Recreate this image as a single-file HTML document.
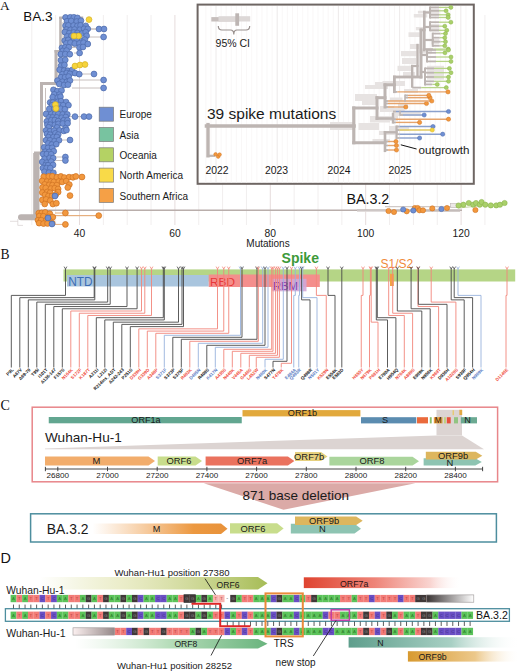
<!DOCTYPE html>
<html><head><meta charset="utf-8"><style>
html,body{margin:0;padding:0;background:#fff;width:520px;height:671px;overflow:hidden}
svg{display:block}
</style></head><body>
<svg width="520" height="671" viewBox="0 0 520 671">
<text x="0" y="9.6" font-size="13.4" fill="#111" text-anchor="start" font-family="Liberation Serif, serif" >A</text>
<text x="23.2" y="21.4" font-size="13.6" fill="#111" text-anchor="start" font-family="Liberation Sans, sans-serif" >BA.3</text>
<line x1="31.8" y1="15" x2="31.8" y2="225" stroke="#f1eeee" stroke-width="1"/>
<line x1="55.65" y1="15" x2="55.65" y2="225" stroke="#f1eeee" stroke-width="1"/>
<line x1="79.5" y1="15" x2="79.5" y2="225" stroke="#e6dcdc" stroke-width="1"/>
<line x1="103.35" y1="15" x2="103.35" y2="225" stroke="#f1eeee" stroke-width="1"/>
<line x1="127.2" y1="15" x2="127.2" y2="225" stroke="#f1eeee" stroke-width="1"/>
<line x1="151.05" y1="15" x2="151.05" y2="225" stroke="#f1eeee" stroke-width="1"/>
<line x1="174.9" y1="15" x2="174.9" y2="225" stroke="#e6dcdc" stroke-width="1"/>
<line x1="198.75" y1="15" x2="198.75" y2="225" stroke="#f1eeee" stroke-width="1"/>
<line x1="222.6" y1="15" x2="222.6" y2="225" stroke="#f1eeee" stroke-width="1"/>
<line x1="246.45" y1="15" x2="246.45" y2="225" stroke="#f1eeee" stroke-width="1"/>
<line x1="270.3" y1="15" x2="270.3" y2="225" stroke="#e6dcdc" stroke-width="1"/>
<line x1="294.15" y1="15" x2="294.15" y2="225" stroke="#f1eeee" stroke-width="1"/>
<line x1="318" y1="15" x2="318" y2="225" stroke="#f1eeee" stroke-width="1"/>
<line x1="341.85" y1="15" x2="341.85" y2="225" stroke="#f1eeee" stroke-width="1"/>
<line x1="365.7" y1="15" x2="365.7" y2="225" stroke="#e6dcdc" stroke-width="1"/>
<line x1="389.55" y1="15" x2="389.55" y2="225" stroke="#f1eeee" stroke-width="1"/>
<line x1="413.4" y1="15" x2="413.4" y2="225" stroke="#f1eeee" stroke-width="1"/>
<line x1="437.25" y1="15" x2="437.25" y2="225" stroke="#f1eeee" stroke-width="1"/>
<line x1="461.1" y1="15" x2="461.1" y2="225" stroke="#e6dcdc" stroke-width="1"/>
<line x1="484.95" y1="15" x2="484.95" y2="225" stroke="#f1eeee" stroke-width="1"/>
<line x1="38" y1="210.3" x2="462" y2="210.3" stroke="#b9aeab" stroke-width="1.6" />
<line x1="50" y1="215.6" x2="98" y2="215.6" stroke="#e0a060" stroke-width="1" />
<path d="M21,217.3 L37,217.3" stroke="#bbb3b1" stroke-width="6" stroke-linecap="round"/>
<rect x="33.2" y="153" width="6.3" height="66" fill="#bbb3b1" />
<line x1="10" y1="221.3" x2="18" y2="221.3" stroke="#dcd6d5" stroke-width="0.8" />
<line x1="17.8" y1="219" x2="17.8" y2="225.4" stroke="#dcd6d5" stroke-width="0.8" />
<line x1="17.8" y1="225.4" x2="23" y2="225.4" stroke="#dcd6d5" stroke-width="0.8" />
<rect x="34" y="151.5" width="9" height="3" fill="#bbb3b1" />
<rect x="40" y="82" width="3" height="72" fill="#bbb3b1" />
<rect x="40" y="82" width="17" height="3" fill="#bbb3b1" />
<rect x="54.5" y="50" width="3" height="34" fill="#bbb3b1" />
<rect x="54.5" y="50" width="7" height="2.5" fill="#bbb3b1" />
<rect x="59.2" y="17" width="2.6" height="35" fill="#bbb3b1" />
<rect x="59.2" y="16.5" width="24" height="2.5" fill="#bbb3b1" />
<line x1="45.5" y1="88" x2="45.5" y2="122" stroke="#c8c0be" stroke-width="1" />
<line x1="47" y1="125" x2="47" y2="150" stroke="#c8c0be" stroke-width="1" />
<line x1="43" y1="156" x2="43" y2="175" stroke="#c8c0be" stroke-width="1" />
<line x1="41" y1="180" x2="41" y2="205" stroke="#c8c0be" stroke-width="1" />
<line x1="39" y1="211" x2="39" y2="226" stroke="#c8c0be" stroke-width="1" />
<line x1="63" y1="22" x2="63" y2="44" stroke="#c8c0be" stroke-width="1" />
<line x1="60" y1="56" x2="60" y2="66" stroke="#c8c0be" stroke-width="1" />
<line x1="58" y1="68" x2="58" y2="80" stroke="#c8c0be" stroke-width="1" />
<line x1="72" y1="47.5" x2="79.5" y2="47.5" stroke="#c8c0be" stroke-width="1" />
<line x1="72" y1="47" x2="83" y2="47" stroke="#c8c0be" stroke-width="1" />
<line x1="84" y1="29" x2="99" y2="29" stroke="#c8c0be" stroke-width="1" />
<line x1="88" y1="29" x2="104" y2="29" stroke="#c8c0be" stroke-width="1" />
<line x1="84" y1="37" x2="103.6" y2="37" stroke="#c8c0be" stroke-width="1" />
<line x1="74" y1="53" x2="79.6" y2="53" stroke="#c8c0be" stroke-width="1" />
<line x1="80" y1="74" x2="94" y2="74" stroke="#c8c0be" stroke-width="1" />
<line x1="72" y1="80" x2="103.6" y2="80" stroke="#c8c0be" stroke-width="1" />
<line x1="72" y1="88" x2="103.6" y2="88" stroke="#c8c0be" stroke-width="1" />
<line x1="70" y1="116.6" x2="75" y2="116.6" stroke="#c8c0be" stroke-width="1" />
<line x1="72" y1="116.6" x2="84" y2="116.6" stroke="#c8c0be" stroke-width="1" />
<line x1="72" y1="116.6" x2="89" y2="116.6" stroke="#c8c0be" stroke-width="1" />
<line x1="60" y1="140" x2="70" y2="140" stroke="#c8c0be" stroke-width="1" />
<line x1="56" y1="157" x2="65.4" y2="157" stroke="#c8c0be" stroke-width="1" />
<line x1="56" y1="160.5" x2="65.4" y2="160.5" stroke="#c8c0be" stroke-width="1" />
<line x1="70" y1="195.6" x2="70" y2="195.6" stroke="#e6b080" stroke-width="1" />
<line x1="55" y1="213" x2="65.4" y2="213" stroke="#e6b080" stroke-width="1" />
<line x1="55" y1="215.6" x2="98.75" y2="215.6" stroke="#e6b080" stroke-width="1" />
<line x1="55" y1="224.4" x2="65.4" y2="224.4" stroke="#e6b080" stroke-width="1" />
<line x1="80" y1="177" x2="82" y2="177" stroke="#e6b080" stroke-width="1" />
<circle cx="65.58" cy="17.44" r="2.9" fill="#6f8fd3" stroke="#4f6cac" stroke-width="0.75"/>
<circle cx="70.27" cy="17.32" r="2.9" fill="#6f8fd3" stroke="#4f6cac" stroke-width="0.75"/>
<circle cx="73.86" cy="17.29" r="2.9" fill="#6f8fd3" stroke="#4f6cac" stroke-width="0.75"/>
<circle cx="77.37" cy="17.89" r="2.9" fill="#6f8fd3" stroke="#4f6cac" stroke-width="0.75"/>
<circle cx="67.06" cy="21.28" r="2.9" fill="#6f8fd3" stroke="#4f6cac" stroke-width="0.75"/>
<circle cx="71.22" cy="20.96" r="2.9" fill="#6f8fd3" stroke="#4f6cac" stroke-width="0.75"/>
<circle cx="76.81" cy="21.52" r="2.9" fill="#6f8fd3" stroke="#4f6cac" stroke-width="0.75"/>
<circle cx="80.96" cy="20.67" r="2.9" fill="#6f8fd3" stroke="#4f6cac" stroke-width="0.75"/>
<circle cx="65.55" cy="25.66" r="2.9" fill="#6f8fd3" stroke="#4f6cac" stroke-width="0.75"/>
<circle cx="68.36" cy="25.39" r="2.9" fill="#6f8fd3" stroke="#4f6cac" stroke-width="0.75"/>
<circle cx="73.67" cy="25.49" r="2.9" fill="#6f8fd3" stroke="#4f6cac" stroke-width="0.75"/>
<circle cx="77.45" cy="25.8" r="2.9" fill="#6f8fd3" stroke="#4f6cac" stroke-width="0.75"/>
<circle cx="80.51" cy="25.3" r="2.9" fill="#6f8fd3" stroke="#4f6cac" stroke-width="0.75"/>
<circle cx="85.72" cy="25.88" r="2.9" fill="#6f8fd3" stroke="#4f6cac" stroke-width="0.75"/>
<circle cx="66.47" cy="29.54" r="2.9" fill="#6f8fd3" stroke="#4f6cac" stroke-width="0.75"/>
<circle cx="70.54" cy="29.87" r="2.9" fill="#6f8fd3" stroke="#4f6cac" stroke-width="0.75"/>
<circle cx="74.54" cy="29.52" r="2.9" fill="#6f8fd3" stroke="#4f6cac" stroke-width="0.75"/>
<circle cx="79.78" cy="29.77" r="2.9" fill="#6f8fd3" stroke="#4f6cac" stroke-width="0.75"/>
<circle cx="84.06" cy="28.79" r="2.9" fill="#6f8fd3" stroke="#4f6cac" stroke-width="0.75"/>
<circle cx="87.76" cy="28.84" r="2.9" fill="#6f8fd3" stroke="#4f6cac" stroke-width="0.75"/>
<circle cx="64.88" cy="32.06" r="2.9" fill="#6f8fd3" stroke="#4f6cac" stroke-width="0.75"/>
<circle cx="69.3" cy="33.22" r="2.9" fill="#6f8fd3" stroke="#4f6cac" stroke-width="0.75"/>
<circle cx="73.78" cy="32.5" r="2.9" fill="#6f8fd3" stroke="#4f6cac" stroke-width="0.75"/>
<circle cx="77.37" cy="32.93" r="2.9" fill="#6f8fd3" stroke="#4f6cac" stroke-width="0.75"/>
<circle cx="81.91" cy="33.51" r="2.9" fill="#6f8fd3" stroke="#4f6cac" stroke-width="0.75"/>
<circle cx="85.7" cy="32.1" r="2.9" fill="#6f8fd3" stroke="#4f6cac" stroke-width="0.75"/>
<circle cx="67.16" cy="36.44" r="2.9" fill="#6f8fd3" stroke="#4f6cac" stroke-width="0.75"/>
<circle cx="71.48" cy="35.86" r="2.9" fill="#6f8fd3" stroke="#4f6cac" stroke-width="0.75"/>
<circle cx="75.3" cy="35.44" r="2.9" fill="#6f8fd3" stroke="#4f6cac" stroke-width="0.75"/>
<circle cx="78.5" cy="35.59" r="2.9" fill="#6f8fd3" stroke="#4f6cac" stroke-width="0.75"/>
<circle cx="86.63" cy="35.8" r="2.9" fill="#6f8fd3" stroke="#4f6cac" stroke-width="0.75"/>
<circle cx="64.7" cy="40.59" r="2.9" fill="#6f8fd3" stroke="#4f6cac" stroke-width="0.75"/>
<circle cx="68.25" cy="39.92" r="2.9" fill="#6f8fd3" stroke="#4f6cac" stroke-width="0.75"/>
<circle cx="73.79" cy="40.51" r="2.9" fill="#6f8fd3" stroke="#4f6cac" stroke-width="0.75"/>
<circle cx="76.8" cy="39.86" r="2.9" fill="#6f8fd3" stroke="#4f6cac" stroke-width="0.75"/>
<circle cx="81.99" cy="40.73" r="2.9" fill="#6f8fd3" stroke="#4f6cac" stroke-width="0.75"/>
<circle cx="84.82" cy="39.57" r="2.9" fill="#6f8fd3" stroke="#4f6cac" stroke-width="0.75"/>
<circle cx="66.32" cy="43.38" r="2.9" fill="#6f8fd3" stroke="#4f6cac" stroke-width="0.75"/>
<circle cx="70.47" cy="42.61" r="2.9" fill="#6f8fd3" stroke="#4f6cac" stroke-width="0.75"/>
<circle cx="74.76" cy="43.51" r="2.9" fill="#6f8fd3" stroke="#4f6cac" stroke-width="0.75"/>
<circle cx="79.44" cy="43.42" r="2.9" fill="#6f8fd3" stroke="#4f6cac" stroke-width="0.75"/>
<circle cx="83.52" cy="42.69" r="2.9" fill="#6f8fd3" stroke="#4f6cac" stroke-width="0.75"/>
<circle cx="87.8" cy="44" r="2.9" fill="#6f8fd3" stroke="#4f6cac" stroke-width="0.75"/>
<circle cx="61.94" cy="47.83" r="2.9" fill="#6f8fd3" stroke="#4f6cac" stroke-width="0.75"/>
<circle cx="65.32" cy="47.37" r="2.9" fill="#6f8fd3" stroke="#4f6cac" stroke-width="0.75"/>
<circle cx="68.81" cy="47.31" r="2.9" fill="#6f8fd3" stroke="#4f6cac" stroke-width="0.75"/>
<circle cx="62.78" cy="50.86" r="2.9" fill="#6f8fd3" stroke="#4f6cac" stroke-width="0.75"/>
<circle cx="66.59" cy="50.6" r="2.9" fill="#6f8fd3" stroke="#4f6cac" stroke-width="0.75"/>
<circle cx="60.77" cy="54.16" r="2.9" fill="#6f8fd3" stroke="#4f6cac" stroke-width="0.75"/>
<circle cx="65.25" cy="54.04" r="2.9" fill="#6f8fd3" stroke="#4f6cac" stroke-width="0.75"/>
<circle cx="69.81" cy="54.24" r="2.9" fill="#6f8fd3" stroke="#4f6cac" stroke-width="0.75"/>
<circle cx="60.95" cy="60.26" r="2.9" fill="#6f8fd3" stroke="#4f6cac" stroke-width="0.75"/>
<circle cx="65.26" cy="59.9" r="2.9" fill="#6f8fd3" stroke="#4f6cac" stroke-width="0.75"/>
<circle cx="61.03" cy="65.79" r="2.9" fill="#6f8fd3" stroke="#4f6cac" stroke-width="0.75"/>
<circle cx="64.44" cy="64.97" r="2.9" fill="#6f8fd3" stroke="#4f6cac" stroke-width="0.75"/>
<circle cx="59.68" cy="69.75" r="2.9" fill="#6f8fd3" stroke="#4f6cac" stroke-width="0.75"/>
<circle cx="64.08" cy="70.53" r="2.9" fill="#6f8fd3" stroke="#4f6cac" stroke-width="0.75"/>
<circle cx="67.74" cy="70.72" r="2.9" fill="#6f8fd3" stroke="#4f6cac" stroke-width="0.75"/>
<circle cx="72.06" cy="70.07" r="2.9" fill="#6f8fd3" stroke="#4f6cac" stroke-width="0.75"/>
<circle cx="62.35" cy="74.17" r="2.9" fill="#6f8fd3" stroke="#4f6cac" stroke-width="0.75"/>
<circle cx="66.75" cy="73.02" r="2.9" fill="#6f8fd3" stroke="#4f6cac" stroke-width="0.75"/>
<circle cx="69.9" cy="73.84" r="2.9" fill="#6f8fd3" stroke="#4f6cac" stroke-width="0.75"/>
<circle cx="75.1" cy="73.13" r="2.9" fill="#6f8fd3" stroke="#4f6cac" stroke-width="0.75"/>
<circle cx="79.26" cy="74.18" r="2.9" fill="#6f8fd3" stroke="#4f6cac" stroke-width="0.75"/>
<circle cx="61.03" cy="77.29" r="2.9" fill="#6f8fd3" stroke="#4f6cac" stroke-width="0.75"/>
<circle cx="65.07" cy="77.18" r="2.9" fill="#6f8fd3" stroke="#4f6cac" stroke-width="0.75"/>
<circle cx="68.63" cy="76.57" r="2.9" fill="#6f8fd3" stroke="#4f6cac" stroke-width="0.75"/>
<circle cx="57.5" cy="80.61" r="2.9" fill="#6f8fd3" stroke="#4f6cac" stroke-width="0.75"/>
<circle cx="62.35" cy="81.73" r="2.9" fill="#6f8fd3" stroke="#4f6cac" stroke-width="0.75"/>
<circle cx="66.89" cy="81.78" r="2.9" fill="#6f8fd3" stroke="#4f6cac" stroke-width="0.75"/>
<circle cx="69.96" cy="80.55" r="2.9" fill="#6f8fd3" stroke="#4f6cac" stroke-width="0.75"/>
<circle cx="59.31" cy="83.91" r="2.9" fill="#6f8fd3" stroke="#4f6cac" stroke-width="0.75"/>
<circle cx="64.12" cy="85.04" r="2.9" fill="#6f8fd3" stroke="#4f6cac" stroke-width="0.75"/>
<circle cx="67.96" cy="84.64" r="2.9" fill="#6f8fd3" stroke="#4f6cac" stroke-width="0.75"/>
<circle cx="53.44" cy="89.84" r="2.9" fill="#6f8fd3" stroke="#4f6cac" stroke-width="0.75"/>
<circle cx="57.29" cy="91.16" r="2.9" fill="#6f8fd3" stroke="#4f6cac" stroke-width="0.75"/>
<circle cx="61.55" cy="90.46" r="2.9" fill="#6f8fd3" stroke="#4f6cac" stroke-width="0.75"/>
<circle cx="54.22" cy="94.36" r="2.9" fill="#6f8fd3" stroke="#4f6cac" stroke-width="0.75"/>
<circle cx="59.44" cy="94.65" r="2.9" fill="#6f8fd3" stroke="#4f6cac" stroke-width="0.75"/>
<circle cx="52.71" cy="97.14" r="2.9" fill="#6f8fd3" stroke="#4f6cac" stroke-width="0.75"/>
<circle cx="57.8" cy="97.66" r="2.9" fill="#6f8fd3" stroke="#4f6cac" stroke-width="0.75"/>
<circle cx="60.43" cy="96.74" r="2.9" fill="#6f8fd3" stroke="#4f6cac" stroke-width="0.75"/>
<circle cx="50.13" cy="102.49" r="2.9" fill="#6f8fd3" stroke="#4f6cac" stroke-width="0.75"/>
<circle cx="52.86" cy="102.52" r="2.9" fill="#6f8fd3" stroke="#4f6cac" stroke-width="0.75"/>
<circle cx="57.88" cy="101.76" r="2.9" fill="#6f8fd3" stroke="#4f6cac" stroke-width="0.75"/>
<circle cx="61.04" cy="101.22" r="2.9" fill="#6f8fd3" stroke="#4f6cac" stroke-width="0.75"/>
<circle cx="66.07" cy="102.04" r="2.9" fill="#6f8fd3" stroke="#4f6cac" stroke-width="0.75"/>
<circle cx="52.08" cy="105.29" r="2.9" fill="#6f8fd3" stroke="#4f6cac" stroke-width="0.75"/>
<circle cx="55.99" cy="104.94" r="2.9" fill="#6f8fd3" stroke="#4f6cac" stroke-width="0.75"/>
<circle cx="59.13" cy="104.98" r="2.9" fill="#6f8fd3" stroke="#4f6cac" stroke-width="0.75"/>
<circle cx="63.17" cy="105.27" r="2.9" fill="#6f8fd3" stroke="#4f6cac" stroke-width="0.75"/>
<circle cx="68.44" cy="105.17" r="2.9" fill="#6f8fd3" stroke="#4f6cac" stroke-width="0.75"/>
<circle cx="49.32" cy="108.93" r="2.9" fill="#6f8fd3" stroke="#4f6cac" stroke-width="0.75"/>
<circle cx="54.23" cy="108.67" r="2.9" fill="#6f8fd3" stroke="#4f6cac" stroke-width="0.75"/>
<circle cx="57.6" cy="108.85" r="2.9" fill="#6f8fd3" stroke="#4f6cac" stroke-width="0.75"/>
<circle cx="60.83" cy="108.7" r="2.9" fill="#6f8fd3" stroke="#4f6cac" stroke-width="0.75"/>
<circle cx="64.91" cy="109.28" r="2.9" fill="#6f8fd3" stroke="#4f6cac" stroke-width="0.75"/>
<circle cx="46.11" cy="113.96" r="2.9" fill="#6f8fd3" stroke="#4f6cac" stroke-width="0.75"/>
<circle cx="51.21" cy="114.09" r="2.9" fill="#6f8fd3" stroke="#4f6cac" stroke-width="0.75"/>
<circle cx="54.93" cy="114.09" r="2.9" fill="#6f8fd3" stroke="#4f6cac" stroke-width="0.75"/>
<circle cx="58.29" cy="114.1" r="2.9" fill="#6f8fd3" stroke="#4f6cac" stroke-width="0.75"/>
<circle cx="62.7" cy="114.44" r="2.9" fill="#6f8fd3" stroke="#4f6cac" stroke-width="0.75"/>
<circle cx="67.31" cy="114.42" r="2.9" fill="#6f8fd3" stroke="#4f6cac" stroke-width="0.75"/>
<circle cx="49.34" cy="117.31" r="2.9" fill="#6f8fd3" stroke="#4f6cac" stroke-width="0.75"/>
<circle cx="52.71" cy="117.42" r="2.9" fill="#6f8fd3" stroke="#4f6cac" stroke-width="0.75"/>
<circle cx="56.71" cy="117.45" r="2.9" fill="#6f8fd3" stroke="#4f6cac" stroke-width="0.75"/>
<circle cx="61.69" cy="117.72" r="2.9" fill="#6f8fd3" stroke="#4f6cac" stroke-width="0.75"/>
<circle cx="65.8" cy="117.02" r="2.9" fill="#6f8fd3" stroke="#4f6cac" stroke-width="0.75"/>
<circle cx="46.81" cy="121.51" r="2.9" fill="#6f8fd3" stroke="#4f6cac" stroke-width="0.75"/>
<circle cx="51.41" cy="120.22" r="2.9" fill="#6f8fd3" stroke="#4f6cac" stroke-width="0.75"/>
<circle cx="54.8" cy="120.12" r="2.9" fill="#6f8fd3" stroke="#4f6cac" stroke-width="0.75"/>
<circle cx="58.23" cy="121.07" r="2.9" fill="#6f8fd3" stroke="#4f6cac" stroke-width="0.75"/>
<circle cx="63.81" cy="120.25" r="2.9" fill="#6f8fd3" stroke="#4f6cac" stroke-width="0.75"/>
<circle cx="67.49" cy="120.23" r="2.9" fill="#6f8fd3" stroke="#4f6cac" stroke-width="0.75"/>
<circle cx="47.39" cy="124.75" r="2.9" fill="#6f8fd3" stroke="#4f6cac" stroke-width="0.75"/>
<circle cx="50.3" cy="124.72" r="2.9" fill="#6f8fd3" stroke="#4f6cac" stroke-width="0.75"/>
<circle cx="54.88" cy="124.78" r="2.9" fill="#6f8fd3" stroke="#4f6cac" stroke-width="0.75"/>
<circle cx="58.39" cy="123.89" r="2.9" fill="#6f8fd3" stroke="#4f6cac" stroke-width="0.75"/>
<circle cx="62.81" cy="123.51" r="2.9" fill="#6f8fd3" stroke="#4f6cac" stroke-width="0.75"/>
<circle cx="67.6" cy="123.23" r="2.9" fill="#6f8fd3" stroke="#4f6cac" stroke-width="0.75"/>
<circle cx="48.7" cy="127.3" r="2.9" fill="#6f8fd3" stroke="#4f6cac" stroke-width="0.75"/>
<circle cx="57.02" cy="127.42" r="2.9" fill="#6f8fd3" stroke="#4f6cac" stroke-width="0.75"/>
<circle cx="65.52" cy="128.15" r="2.9" fill="#6f8fd3" stroke="#4f6cac" stroke-width="0.75"/>
<circle cx="45.99" cy="130.42" r="2.9" fill="#6f8fd3" stroke="#4f6cac" stroke-width="0.75"/>
<circle cx="49.97" cy="131.25" r="2.9" fill="#6f8fd3" stroke="#4f6cac" stroke-width="0.75"/>
<circle cx="54.23" cy="130.68" r="2.9" fill="#6f8fd3" stroke="#4f6cac" stroke-width="0.75"/>
<circle cx="59.57" cy="130.41" r="2.9" fill="#6f8fd3" stroke="#4f6cac" stroke-width="0.75"/>
<circle cx="63.85" cy="130.91" r="2.9" fill="#6f8fd3" stroke="#4f6cac" stroke-width="0.75"/>
<circle cx="66.46" cy="130.09" r="2.9" fill="#6f8fd3" stroke="#4f6cac" stroke-width="0.75"/>
<circle cx="47.04" cy="133.88" r="2.9" fill="#6f8fd3" stroke="#4f6cac" stroke-width="0.75"/>
<circle cx="50.03" cy="134.7" r="2.9" fill="#6f8fd3" stroke="#4f6cac" stroke-width="0.75"/>
<circle cx="55.44" cy="133.33" r="2.9" fill="#6f8fd3" stroke="#4f6cac" stroke-width="0.75"/>
<circle cx="58.22" cy="134.58" r="2.9" fill="#6f8fd3" stroke="#4f6cac" stroke-width="0.75"/>
<circle cx="48.52" cy="137.14" r="2.9" fill="#6f8fd3" stroke="#4f6cac" stroke-width="0.75"/>
<circle cx="53.47" cy="137.03" r="2.9" fill="#6f8fd3" stroke="#4f6cac" stroke-width="0.75"/>
<circle cx="56.85" cy="136.98" r="2.9" fill="#6f8fd3" stroke="#4f6cac" stroke-width="0.75"/>
<circle cx="46" cy="140.26" r="2.9" fill="#6f8fd3" stroke="#4f6cac" stroke-width="0.75"/>
<circle cx="49.99" cy="140.32" r="2.9" fill="#6f8fd3" stroke="#4f6cac" stroke-width="0.75"/>
<circle cx="54.55" cy="141.22" r="2.9" fill="#6f8fd3" stroke="#4f6cac" stroke-width="0.75"/>
<circle cx="59" cy="140.28" r="2.9" fill="#6f8fd3" stroke="#4f6cac" stroke-width="0.75"/>
<circle cx="48.32" cy="143.43" r="2.9" fill="#6f8fd3" stroke="#4f6cac" stroke-width="0.75"/>
<circle cx="51.83" cy="144.57" r="2.9" fill="#6f8fd3" stroke="#4f6cac" stroke-width="0.75"/>
<circle cx="56.24" cy="144.16" r="2.9" fill="#6f8fd3" stroke="#4f6cac" stroke-width="0.75"/>
<circle cx="44.18" cy="147.37" r="2.9" fill="#6f8fd3" stroke="#4f6cac" stroke-width="0.75"/>
<circle cx="48.07" cy="147.89" r="2.9" fill="#6f8fd3" stroke="#4f6cac" stroke-width="0.75"/>
<circle cx="52.2" cy="147.83" r="2.9" fill="#6f8fd3" stroke="#4f6cac" stroke-width="0.75"/>
<circle cx="45.31" cy="151.7" r="2.9" fill="#6f8fd3" stroke="#4f6cac" stroke-width="0.75"/>
<circle cx="49.12" cy="151.93" r="2.9" fill="#6f8fd3" stroke="#4f6cac" stroke-width="0.75"/>
<circle cx="53.74" cy="151.25" r="2.9" fill="#6f8fd3" stroke="#4f6cac" stroke-width="0.75"/>
<circle cx="43.13" cy="154.09" r="2.9" fill="#6f8fd3" stroke="#4f6cac" stroke-width="0.75"/>
<circle cx="46.83" cy="154.11" r="2.9" fill="#6f8fd3" stroke="#4f6cac" stroke-width="0.75"/>
<circle cx="51.16" cy="154.26" r="2.9" fill="#6f8fd3" stroke="#4f6cac" stroke-width="0.75"/>
<circle cx="44.55" cy="158.75" r="2.9" fill="#6f8fd3" stroke="#4f6cac" stroke-width="0.75"/>
<circle cx="49.71" cy="157.85" r="2.9" fill="#6f8fd3" stroke="#4f6cac" stroke-width="0.75"/>
<circle cx="53.13" cy="158.14" r="2.9" fill="#6f8fd3" stroke="#4f6cac" stroke-width="0.75"/>
<circle cx="42.28" cy="161.91" r="2.9" fill="#6f8fd3" stroke="#4f6cac" stroke-width="0.75"/>
<circle cx="46.57" cy="162.74" r="2.9" fill="#6f8fd3" stroke="#4f6cac" stroke-width="0.75"/>
<circle cx="51.18" cy="161.59" r="2.9" fill="#6f8fd3" stroke="#4f6cac" stroke-width="0.75"/>
<circle cx="45.64" cy="165.1" r="2.9" fill="#6f8fd3" stroke="#4f6cac" stroke-width="0.75"/>
<circle cx="48" cy="165.21" r="2.9" fill="#6f8fd3" stroke="#4f6cac" stroke-width="0.75"/>
<circle cx="53" cy="164.92" r="2.9" fill="#6f8fd3" stroke="#4f6cac" stroke-width="0.75"/>
<circle cx="42.91" cy="168.01" r="2.9" fill="#6f8fd3" stroke="#4f6cac" stroke-width="0.75"/>
<circle cx="46.58" cy="168.14" r="2.9" fill="#6f8fd3" stroke="#4f6cac" stroke-width="0.75"/>
<circle cx="50.28" cy="168.04" r="2.9" fill="#6f8fd3" stroke="#4f6cac" stroke-width="0.75"/>
<circle cx="44.45" cy="171.77" r="2.9" fill="#6f8fd3" stroke="#4f6cac" stroke-width="0.75"/>
<circle cx="48.95" cy="172.6" r="2.9" fill="#6f8fd3" stroke="#4f6cac" stroke-width="0.75"/>
<circle cx="53.39" cy="172.81" r="2.9" fill="#6f8fd3" stroke="#4f6cac" stroke-width="0.75"/>
<circle cx="43.7" cy="176.72" r="2.9" fill="#f2983e" stroke="#d07424" stroke-width="0.75"/>
<circle cx="48.87" cy="176.44" r="2.9" fill="#f2983e" stroke="#d07424" stroke-width="0.75"/>
<circle cx="52.36" cy="176.27" r="2.9" fill="#f2983e" stroke="#d07424" stroke-width="0.75"/>
<circle cx="56.91" cy="177.2" r="2.9" fill="#f2983e" stroke="#d07424" stroke-width="0.75"/>
<circle cx="60.86" cy="176.42" r="2.9" fill="#f2983e" stroke="#d07424" stroke-width="0.75"/>
<circle cx="64.41" cy="177.54" r="2.9" fill="#f2983e" stroke="#d07424" stroke-width="0.75"/>
<circle cx="69.09" cy="177.13" r="2.9" fill="#f2983e" stroke="#d07424" stroke-width="0.75"/>
<circle cx="72.93" cy="177.31" r="2.9" fill="#f2983e" stroke="#d07424" stroke-width="0.75"/>
<circle cx="75.86" cy="176.41" r="2.9" fill="#f2983e" stroke="#d07424" stroke-width="0.75"/>
<circle cx="42.15" cy="180.87" r="2.9" fill="#f2983e" stroke="#d07424" stroke-width="0.75"/>
<circle cx="47.1" cy="181.59" r="2.9" fill="#f2983e" stroke="#d07424" stroke-width="0.75"/>
<circle cx="50.83" cy="181.79" r="2.9" fill="#f2983e" stroke="#d07424" stroke-width="0.75"/>
<circle cx="53.81" cy="181.98" r="2.9" fill="#f2983e" stroke="#d07424" stroke-width="0.75"/>
<circle cx="58.81" cy="181.56" r="2.9" fill="#f2983e" stroke="#d07424" stroke-width="0.75"/>
<circle cx="62.12" cy="181.88" r="2.9" fill="#f2983e" stroke="#d07424" stroke-width="0.75"/>
<circle cx="66.23" cy="181.12" r="2.9" fill="#f2983e" stroke="#d07424" stroke-width="0.75"/>
<circle cx="44.71" cy="184.43" r="2.9" fill="#f2983e" stroke="#d07424" stroke-width="0.75"/>
<circle cx="49.26" cy="184.89" r="2.9" fill="#f2983e" stroke="#d07424" stroke-width="0.75"/>
<circle cx="52.46" cy="185.19" r="2.9" fill="#f2983e" stroke="#d07424" stroke-width="0.75"/>
<circle cx="56.81" cy="185.13" r="2.9" fill="#f2983e" stroke="#d07424" stroke-width="0.75"/>
<circle cx="69.34" cy="184.59" r="2.9" fill="#f2983e" stroke="#d07424" stroke-width="0.75"/>
<circle cx="42.52" cy="187.52" r="2.9" fill="#f2983e" stroke="#d07424" stroke-width="0.75"/>
<circle cx="45.71" cy="187.93" r="2.9" fill="#f2983e" stroke="#d07424" stroke-width="0.75"/>
<circle cx="50.95" cy="188.58" r="2.9" fill="#f2983e" stroke="#d07424" stroke-width="0.75"/>
<circle cx="54.73" cy="188.24" r="2.9" fill="#f2983e" stroke="#d07424" stroke-width="0.75"/>
<circle cx="58.11" cy="188.93" r="2.9" fill="#f2983e" stroke="#d07424" stroke-width="0.75"/>
<circle cx="67.79" cy="187.53" r="2.9" fill="#f2983e" stroke="#d07424" stroke-width="0.75"/>
<circle cx="42.33" cy="192.51" r="2.9" fill="#f2983e" stroke="#d07424" stroke-width="0.75"/>
<circle cx="47.34" cy="191.92" r="2.9" fill="#f2983e" stroke="#d07424" stroke-width="0.75"/>
<circle cx="50.08" cy="192.71" r="2.9" fill="#f2983e" stroke="#d07424" stroke-width="0.75"/>
<circle cx="58.16" cy="192.04" r="2.9" fill="#f2983e" stroke="#d07424" stroke-width="0.75"/>
<circle cx="45.11" cy="194.81" r="2.9" fill="#f2983e" stroke="#d07424" stroke-width="0.75"/>
<circle cx="48.42" cy="196.02" r="2.9" fill="#f2983e" stroke="#d07424" stroke-width="0.75"/>
<circle cx="52.02" cy="196.04" r="2.9" fill="#f2983e" stroke="#d07424" stroke-width="0.75"/>
<circle cx="55.74" cy="194.61" r="2.9" fill="#f2983e" stroke="#d07424" stroke-width="0.75"/>
<circle cx="42.39" cy="199.92" r="2.9" fill="#f2983e" stroke="#d07424" stroke-width="0.75"/>
<circle cx="46.14" cy="199.43" r="2.9" fill="#f2983e" stroke="#d07424" stroke-width="0.75"/>
<circle cx="50.27" cy="200.54" r="2.9" fill="#f2983e" stroke="#d07424" stroke-width="0.75"/>
<circle cx="44.75" cy="203.94" r="2.9" fill="#f2983e" stroke="#d07424" stroke-width="0.75"/>
<circle cx="52.88" cy="204.04" r="2.9" fill="#f2983e" stroke="#d07424" stroke-width="0.75"/>
<circle cx="56.37" cy="203.23" r="2.9" fill="#f2983e" stroke="#d07424" stroke-width="0.75"/>
<circle cx="38.8" cy="213.14" r="2.9" fill="#f2983e" stroke="#d07424" stroke-width="0.75"/>
<circle cx="41.75" cy="212.88" r="2.9" fill="#f2983e" stroke="#d07424" stroke-width="0.75"/>
<circle cx="45.29" cy="212.36" r="2.9" fill="#f2983e" stroke="#d07424" stroke-width="0.75"/>
<circle cx="49.81" cy="213.7" r="2.9" fill="#f2983e" stroke="#d07424" stroke-width="0.75"/>
<circle cx="39.35" cy="216.03" r="2.9" fill="#f2983e" stroke="#d07424" stroke-width="0.75"/>
<circle cx="43.34" cy="216.2" r="2.9" fill="#f2983e" stroke="#d07424" stroke-width="0.75"/>
<circle cx="48.69" cy="216.9" r="2.9" fill="#f2983e" stroke="#d07424" stroke-width="0.75"/>
<circle cx="52.84" cy="217.11" r="2.9" fill="#f2983e" stroke="#d07424" stroke-width="0.75"/>
<circle cx="37.99" cy="220.15" r="2.9" fill="#f2983e" stroke="#d07424" stroke-width="0.75"/>
<circle cx="41.19" cy="220.17" r="2.9" fill="#f2983e" stroke="#d07424" stroke-width="0.75"/>
<circle cx="46.55" cy="220.03" r="2.9" fill="#f2983e" stroke="#d07424" stroke-width="0.75"/>
<circle cx="49.39" cy="220.48" r="2.9" fill="#f2983e" stroke="#d07424" stroke-width="0.75"/>
<circle cx="39.13" cy="223.16" r="2.9" fill="#f2983e" stroke="#d07424" stroke-width="0.75"/>
<circle cx="43.54" cy="223.58" r="2.9" fill="#f2983e" stroke="#d07424" stroke-width="0.75"/>
<circle cx="47.57" cy="223.45" r="2.9" fill="#f2983e" stroke="#d07424" stroke-width="0.75"/>
<circle cx="52.2" cy="223.03" r="2.9" fill="#f2983e" stroke="#d07424" stroke-width="0.75"/>
<circle cx="79.5" cy="47.5" r="2.9" fill="#6f8fd3" stroke="#4f6cac" stroke-width="0.75"/>
<circle cx="83" cy="47" r="2.9" fill="#6f8fd3" stroke="#4f6cac" stroke-width="0.75"/>
<circle cx="99" cy="29" r="2.9" fill="#6f8fd3" stroke="#4f6cac" stroke-width="0.75"/>
<circle cx="104" cy="29" r="2.9" fill="#6f8fd3" stroke="#4f6cac" stroke-width="0.75"/>
<circle cx="103.6" cy="37" r="2.9" fill="#6f8fd3" stroke="#4f6cac" stroke-width="0.75"/>
<circle cx="79.6" cy="53" r="2.9" fill="#6f8fd3" stroke="#4f6cac" stroke-width="0.75"/>
<circle cx="94" cy="74" r="2.9" fill="#6f8fd3" stroke="#4f6cac" stroke-width="0.75"/>
<circle cx="103.6" cy="80" r="2.9" fill="#6f8fd3" stroke="#4f6cac" stroke-width="0.75"/>
<circle cx="103.6" cy="88" r="2.9" fill="#6f8fd3" stroke="#4f6cac" stroke-width="0.75"/>
<circle cx="75" cy="116.6" r="2.9" fill="#6f8fd3" stroke="#4f6cac" stroke-width="0.75"/>
<circle cx="84" cy="116.6" r="2.9" fill="#6f8fd3" stroke="#4f6cac" stroke-width="0.75"/>
<circle cx="89" cy="116.6" r="2.9" fill="#6f8fd3" stroke="#4f6cac" stroke-width="0.75"/>
<circle cx="70" cy="140" r="2.9" fill="#6f8fd3" stroke="#4f6cac" stroke-width="0.75"/>
<circle cx="65.4" cy="157" r="2.9" fill="#6f8fd3" stroke="#4f6cac" stroke-width="0.75"/>
<circle cx="65.4" cy="160.5" r="2.9" fill="#6f8fd3" stroke="#4f6cac" stroke-width="0.75"/>
<circle cx="70" cy="195.6" r="2.9" fill="#f2983e" stroke="#d07424" stroke-width="0.75"/>
<circle cx="65.4" cy="213" r="2.9" fill="#f2983e" stroke="#d07424" stroke-width="0.75"/>
<circle cx="98.75" cy="215.6" r="2.9" fill="#f2983e" stroke="#d07424" stroke-width="0.75"/>
<circle cx="65.4" cy="224.4" r="2.9" fill="#f2983e" stroke="#d07424" stroke-width="0.75"/>
<circle cx="82" cy="177" r="2.9" fill="#f2983e" stroke="#d07424" stroke-width="0.75"/>
<circle cx="89" cy="19.6" r="2.9" fill="#f6d43c" stroke="#d8b428" stroke-width="0.75"/>
<circle cx="78.6" cy="36" r="2.9" fill="#f6d43c" stroke="#d8b428" stroke-width="0.75"/>
<circle cx="74" cy="36" r="2.9" fill="#f6d43c" stroke="#d8b428" stroke-width="0.75"/>
<circle cx="75" cy="66" r="2.9" fill="#f6d43c" stroke="#d8b428" stroke-width="0.75"/>
<circle cx="80" cy="65" r="2.9" fill="#f6d43c" stroke="#d8b428" stroke-width="0.75"/>
<circle cx="85" cy="64.5" r="2.9" fill="#f6d43c" stroke="#d8b428" stroke-width="0.75"/>
<circle cx="55.4" cy="104.6" r="2.9" fill="#f6d43c" stroke="#d8b428" stroke-width="0.75"/>
<circle cx="56" cy="108.5" r="2.9" fill="#f6d43c" stroke="#d8b428" stroke-width="0.75"/>
<circle cx="55" cy="196" r="2.9" fill="#6f8fd3" stroke="#4f6cac" stroke-width="0.75"/>
<circle cx="52" cy="224" r="2.9" fill="#6f8fd3" stroke="#4f6cac" stroke-width="0.75"/>
<circle cx="48" cy="218" r="2.9" fill="#6f8fd3" stroke="#4f6cac" stroke-width="0.75"/>
<rect x="99.2" y="107.2" width="14.3" height="14" fill="#6f8fd3" stroke="#7a7a7a" stroke-width="0.7"/>
<text x="119.6" y="118.4" font-size="10" fill="#1a1a1a" text-anchor="start" font-family="Liberation Sans, sans-serif" >Europe</text>
<rect x="99.2" y="127.5" width="14.3" height="14" fill="#78c3a0" stroke="#7a7a7a" stroke-width="0.7"/>
<text x="119.6" y="138.7" font-size="10" fill="#1a1a1a" text-anchor="start" font-family="Liberation Sans, sans-serif" >Asia</text>
<rect x="99.2" y="147.8" width="14.3" height="14" fill="#b4d264" stroke="#7a7a7a" stroke-width="0.7"/>
<text x="119.6" y="159" font-size="10" fill="#1a1a1a" text-anchor="start" font-family="Liberation Sans, sans-serif" >Oceania</text>
<rect x="99.2" y="168.1" width="14.3" height="14" fill="#f9da48" stroke="#7a7a7a" stroke-width="0.7"/>
<text x="119.6" y="179.3" font-size="10" fill="#1a1a1a" text-anchor="start" font-family="Liberation Sans, sans-serif" >North America</text>
<rect x="99.2" y="188.4" width="14.3" height="14" fill="#f5a046" stroke="#7a7a7a" stroke-width="0.7"/>
<text x="119.6" y="199.6" font-size="10" fill="#1a1a1a" text-anchor="start" font-family="Liberation Sans, sans-serif" >Southern Africa</text>
<text x="79.5" y="236.5" font-size="10.3" fill="#1a1a1a" text-anchor="middle" font-family="Liberation Sans, sans-serif" >40</text>
<text x="174.9" y="236.5" font-size="10.3" fill="#1a1a1a" text-anchor="middle" font-family="Liberation Sans, sans-serif" >60</text>
<text x="270.3" y="236.5" font-size="10.3" fill="#1a1a1a" text-anchor="middle" font-family="Liberation Sans, sans-serif" >80</text>
<text x="365.7" y="236.5" font-size="10.3" fill="#1a1a1a" text-anchor="middle" font-family="Liberation Sans, sans-serif" >100</text>
<text x="461.1" y="236.5" font-size="10.3" fill="#1a1a1a" text-anchor="middle" font-family="Liberation Sans, sans-serif" >120</text>
<text x="268" y="247.3" font-size="10" fill="#1a1a1a" text-anchor="middle" font-family="Liberation Sans, sans-serif" >Mutations</text>
<text x="346.4" y="204" font-size="14.3" fill="#111" text-anchor="start" font-family="Liberation Sans, sans-serif" >BA.3.2</text>
<line x1="357" y1="210.6" x2="460" y2="210.6" stroke="#c4bcba" stroke-width="2.2" />
<line x1="357" y1="211.2" x2="388" y2="211.2" stroke="#efeceb" stroke-width="0.8" />
<line x1="385" y1="206.6" x2="458" y2="206.6" stroke="#d0c9c7" stroke-width="1.2" />
<rect x="450.5" y="203.6" width="14.5" height="3.7" fill="#ece8e7" stroke="#bdb5b3" stroke-width="0.6"/>
<line x1="458" y1="208" x2="500" y2="204" stroke="#c6d6a0" stroke-width="1" />
<circle cx="388.5" cy="211" r="2.6" fill="#f2983e" stroke="#d07424" stroke-width="0.6"/>
<circle cx="394" cy="212" r="2.6" fill="#f2983e" stroke="#d07424" stroke-width="0.6"/>
<circle cx="406.7" cy="211.3" r="2.6" fill="#f2983e" stroke="#d07424" stroke-width="0.6"/>
<circle cx="403.2" cy="209.5" r="2.6" fill="#6f8fd3" stroke="#4f6cac" stroke-width="0.6"/>
<circle cx="414.8" cy="208" r="2.6" fill="#f2983e" stroke="#d07424" stroke-width="0.6"/>
<circle cx="417.7" cy="208" r="2.6" fill="#f2983e" stroke="#d07424" stroke-width="0.6"/>
<circle cx="413.3" cy="210.5" r="2.6" fill="#6f8fd3" stroke="#4f6cac" stroke-width="0.6"/>
<circle cx="419.5" cy="210.3" r="2.6" fill="#f2983e" stroke="#d07424" stroke-width="0.6"/>
<circle cx="423" cy="210.3" r="2.6" fill="#f2983e" stroke="#d07424" stroke-width="0.6"/>
<circle cx="432.3" cy="208.4" r="2.6" fill="#f2983e" stroke="#d07424" stroke-width="0.6"/>
<circle cx="441.4" cy="209" r="2.6" fill="#6f8fd3" stroke="#4f6cac" stroke-width="0.6"/>
<circle cx="447" cy="208" r="2.6" fill="#f2983e" stroke="#d07424" stroke-width="0.6"/>
<circle cx="475.4" cy="210" r="2.6" fill="#f2983e" stroke="#d07424" stroke-width="0.6"/>
<circle cx="463.4" cy="204.7" r="2.6" fill="#a9d06a" stroke="#8cb44c" stroke-width="0.6"/>
<circle cx="468.8" cy="203" r="2.6" fill="#a9d06a" stroke="#8cb44c" stroke-width="0.6"/>
<circle cx="473.2" cy="204.7" r="2.6" fill="#a9d06a" stroke="#8cb44c" stroke-width="0.6"/>
<circle cx="476" cy="203" r="2.6" fill="#a9d06a" stroke="#8cb44c" stroke-width="0.6"/>
<circle cx="479.8" cy="204.7" r="2.6" fill="#a9d06a" stroke="#8cb44c" stroke-width="0.6"/>
<circle cx="481.6" cy="202" r="2.6" fill="#a9d06a" stroke="#8cb44c" stroke-width="0.6"/>
<circle cx="485.3" cy="204.7" r="2.6" fill="#a9d06a" stroke="#8cb44c" stroke-width="0.6"/>
<circle cx="490.8" cy="205.4" r="2.6" fill="#a9d06a" stroke="#8cb44c" stroke-width="0.6"/>
<circle cx="496.2" cy="205.4" r="2.6" fill="#a9d06a" stroke="#8cb44c" stroke-width="0.6"/>
<circle cx="500" cy="204.7" r="2.6" fill="#a9d06a" stroke="#8cb44c" stroke-width="0.6"/>
<circle cx="504.6" cy="203" r="2.6" fill="#a9d06a" stroke="#8cb44c" stroke-width="0.6"/>
<circle cx="458.5" cy="205.5" r="2.6" fill="#a9d06a" stroke="#8cb44c" stroke-width="0.6"/>
<rect x="197.6" y="4.6" width="276.2" height="179.2" fill="#ffffff" stroke="#6e6663" stroke-width="2"/>
<line x1="205.8" y1="6" x2="205.8" y2="182.5" stroke="#f7f5f5" stroke-width="0.8" />
<line x1="210.9" y1="6" x2="210.9" y2="182.5" stroke="#f7f5f5" stroke-width="0.8" />
<line x1="216" y1="6" x2="216" y2="182.5" stroke="#e9e4e4" stroke-width="0.8" />
<line x1="221.1" y1="6" x2="221.1" y2="182.5" stroke="#f7f5f5" stroke-width="0.8" />
<line x1="226.2" y1="6" x2="226.2" y2="182.5" stroke="#f7f5f5" stroke-width="0.8" />
<line x1="231.3" y1="6" x2="231.3" y2="182.5" stroke="#f7f5f5" stroke-width="0.8" />
<line x1="236.4" y1="6" x2="236.4" y2="182.5" stroke="#f7f5f5" stroke-width="0.8" />
<line x1="241.5" y1="6" x2="241.5" y2="182.5" stroke="#f7f5f5" stroke-width="0.8" />
<line x1="246.6" y1="6" x2="246.6" y2="182.5" stroke="#f7f5f5" stroke-width="0.8" />
<line x1="251.7" y1="6" x2="251.7" y2="182.5" stroke="#f7f5f5" stroke-width="0.8" />
<line x1="256.8" y1="6" x2="256.8" y2="182.5" stroke="#f7f5f5" stroke-width="0.8" />
<line x1="261.9" y1="6" x2="261.9" y2="182.5" stroke="#f7f5f5" stroke-width="0.8" />
<line x1="267" y1="6" x2="267" y2="182.5" stroke="#f7f5f5" stroke-width="0.8" />
<line x1="272.1" y1="6" x2="272.1" y2="182.5" stroke="#f7f5f5" stroke-width="0.8" />
<line x1="277.2" y1="6" x2="277.2" y2="182.5" stroke="#e9e4e4" stroke-width="0.8" />
<line x1="282.3" y1="6" x2="282.3" y2="182.5" stroke="#f7f5f5" stroke-width="0.8" />
<line x1="287.4" y1="6" x2="287.4" y2="182.5" stroke="#f7f5f5" stroke-width="0.8" />
<line x1="292.5" y1="6" x2="292.5" y2="182.5" stroke="#f7f5f5" stroke-width="0.8" />
<line x1="297.6" y1="6" x2="297.6" y2="182.5" stroke="#f7f5f5" stroke-width="0.8" />
<line x1="302.7" y1="6" x2="302.7" y2="182.5" stroke="#f7f5f5" stroke-width="0.8" />
<line x1="307.8" y1="6" x2="307.8" y2="182.5" stroke="#f7f5f5" stroke-width="0.8" />
<line x1="312.9" y1="6" x2="312.9" y2="182.5" stroke="#f7f5f5" stroke-width="0.8" />
<line x1="318" y1="6" x2="318" y2="182.5" stroke="#f7f5f5" stroke-width="0.8" />
<line x1="323.1" y1="6" x2="323.1" y2="182.5" stroke="#f7f5f5" stroke-width="0.8" />
<line x1="328.2" y1="6" x2="328.2" y2="182.5" stroke="#f7f5f5" stroke-width="0.8" />
<line x1="333.3" y1="6" x2="333.3" y2="182.5" stroke="#f7f5f5" stroke-width="0.8" />
<line x1="338.4" y1="6" x2="338.4" y2="182.5" stroke="#e9e4e4" stroke-width="0.8" />
<line x1="343.5" y1="6" x2="343.5" y2="182.5" stroke="#f7f5f5" stroke-width="0.8" />
<line x1="348.6" y1="6" x2="348.6" y2="182.5" stroke="#f7f5f5" stroke-width="0.8" />
<line x1="353.7" y1="6" x2="353.7" y2="182.5" stroke="#f7f5f5" stroke-width="0.8" />
<line x1="358.8" y1="6" x2="358.8" y2="182.5" stroke="#f7f5f5" stroke-width="0.8" />
<line x1="363.9" y1="6" x2="363.9" y2="182.5" stroke="#f7f5f5" stroke-width="0.8" />
<line x1="369" y1="6" x2="369" y2="182.5" stroke="#f7f5f5" stroke-width="0.8" />
<line x1="374.1" y1="6" x2="374.1" y2="182.5" stroke="#f7f5f5" stroke-width="0.8" />
<line x1="379.2" y1="6" x2="379.2" y2="182.5" stroke="#f7f5f5" stroke-width="0.8" />
<line x1="384.3" y1="6" x2="384.3" y2="182.5" stroke="#f7f5f5" stroke-width="0.8" />
<line x1="389.4" y1="6" x2="389.4" y2="182.5" stroke="#f7f5f5" stroke-width="0.8" />
<line x1="394.5" y1="6" x2="394.5" y2="182.5" stroke="#f7f5f5" stroke-width="0.8" />
<line x1="399.6" y1="6" x2="399.6" y2="182.5" stroke="#e9e4e4" stroke-width="0.8" />
<line x1="404.7" y1="6" x2="404.7" y2="182.5" stroke="#f7f5f5" stroke-width="0.8" />
<line x1="409.8" y1="6" x2="409.8" y2="182.5" stroke="#f7f5f5" stroke-width="0.8" />
<line x1="414.9" y1="6" x2="414.9" y2="182.5" stroke="#f7f5f5" stroke-width="0.8" />
<line x1="420" y1="6" x2="420" y2="182.5" stroke="#f7f5f5" stroke-width="0.8" />
<line x1="425.1" y1="6" x2="425.1" y2="182.5" stroke="#f7f5f5" stroke-width="0.8" />
<line x1="430.2" y1="6" x2="430.2" y2="182.5" stroke="#f7f5f5" stroke-width="0.8" />
<line x1="435.3" y1="6" x2="435.3" y2="182.5" stroke="#f7f5f5" stroke-width="0.8" />
<line x1="440.4" y1="6" x2="440.4" y2="182.5" stroke="#f7f5f5" stroke-width="0.8" />
<line x1="445.5" y1="6" x2="445.5" y2="182.5" stroke="#f7f5f5" stroke-width="0.8" />
<line x1="450.6" y1="6" x2="450.6" y2="182.5" stroke="#f7f5f5" stroke-width="0.8" />
<line x1="455.7" y1="6" x2="455.7" y2="182.5" stroke="#f7f5f5" stroke-width="0.8" />
<line x1="460.8" y1="6" x2="460.8" y2="182.5" stroke="#e9e4e4" stroke-width="0.8" />
<line x1="465.9" y1="6" x2="465.9" y2="182.5" stroke="#f7f5f5" stroke-width="0.8" />
<text x="217" y="173.6" font-size="10.4" fill="#1a1a1a" text-anchor="middle" font-family="Liberation Sans, sans-serif" >2022</text>
<text x="276.6" y="173.6" font-size="10.4" fill="#1a1a1a" text-anchor="middle" font-family="Liberation Sans, sans-serif" >2023</text>
<text x="339" y="173.6" font-size="10.4" fill="#1a1a1a" text-anchor="middle" font-family="Liberation Sans, sans-serif" >2024</text>
<text x="400" y="173.6" font-size="10.4" fill="#1a1a1a" text-anchor="middle" font-family="Liberation Sans, sans-serif" >2025</text>
<rect x="211.3" y="17.1" width="24.5" height="4.4" fill="#c6bebc" />
<rect x="218.5" y="16.2" width="31.7" height="5.3" fill="#ddd8d7" />
<rect x="235.3" y="13.3" width="3.8" height="12.5" fill="#bdb5b3" />
<path d="M218.3,26 Q218.3,30 222,30 L230.5,30 Q233.8,30 233.8,34.5 Q233.8,30 237,30 L246,30 Q249.7,30 249.7,26" fill="none" stroke="#9a918f" stroke-width="1.2"/>
<text x="215.6" y="46.5" font-size="10.5" fill="#1a1a1a" text-anchor="start" font-family="Liberation Sans, sans-serif" >95% CI</text>
<rect x="330" y="122" width="24" height="8" fill="#e7e3e2" />
<rect x="355" y="94" width="22" height="7" fill="#e7e3e2" />
<rect x="365" y="85" width="23" height="4" fill="#e7e3e2" />
<rect x="382.7" y="108" width="22" height="3.5" fill="#e7e3e2" />
<rect x="358.5" y="123" width="20.5" height="7" fill="#e7e3e2" />
<rect x="379" y="131" width="16.5" height="4" fill="#e7e3e2" />
<rect x="393" y="111.5" width="27.8" height="4.5" fill="#e7e3e2" />
<rect x="395.4" y="126.5" width="13.6" height="4.5" fill="#e7e3e2" />
<rect x="375" y="82" width="10.4" height="5.4" fill="#e7e3e2" />
<rect x="397.5" y="65.8" width="14.7" height="5.2" fill="#e7e3e2" />
<rect x="401" y="51" width="15.5" height="5.2" fill="#e7e3e2" />
<rect x="419" y="48.5" width="13" height="5" fill="#e7e3e2" />
<rect x="427" y="65.8" width="17" height="13.8" fill="#e7e3e2" />
<rect x="408.5" y="32.3" width="12" height="4.7" fill="#e7e3e2" />
<rect x="415.9" y="27" width="8" height="3.3" fill="#e7e3e2" />
<rect x="430.7" y="24" width="8.7" height="7.6" fill="#e7e3e2" />
<rect x="431.3" y="39" width="8" height="5.4" fill="#e7e3e2" />
<rect x="417.9" y="10.8" width="12" height="2.7" fill="#e7e3e2" />
<rect x="413.8" y="14" width="13.5" height="3.5" fill="#e7e3e2" />
<rect x="430.7" y="8.7" width="8.7" height="6.8" fill="#e7e3e2" />
<rect x="340" y="124" width="14" height="4" fill="#e7e3e2" />
<rect x="388" y="116" width="10" height="5" fill="#e7e3e2" />
<rect x="404" y="89" width="14" height="4" fill="#e7e3e2" />
<rect x="382.5" y="81" width="22.5" height="5" fill="#e7e3e2" />
<rect x="390" y="97.5" width="12.5" height="3.5" fill="#e7e3e2" />
<rect x="370" y="116" width="20" height="6.5" fill="#e7e3e2" />
<rect x="389" y="126" width="16" height="5" fill="#e7e3e2" />
<rect x="372.5" y="139" width="17.5" height="3.5" fill="#e7e3e2" />
<rect x="362" y="100" width="14" height="5" fill="#e7e3e2" />
<rect x="403" y="72" width="12" height="6" fill="#e7e3e2" />
<rect x="380" y="106" width="14" height="6" fill="#e7e3e2" />
<rect x="398" y="103" width="10" height="5" fill="#e7e3e2" />
<rect x="402" y="58" width="14" height="6" fill="#e7e3e2" />
<rect x="410" y="44" width="10" height="5" fill="#e7e3e2" />
<line x1="208" y1="124.6" x2="208" y2="155.8" stroke="#bdb5b2" stroke-width="3.4" stroke-linecap="square"/>
<line x1="206.5" y1="126" x2="354" y2="126" stroke="#bdb5b2" stroke-width="3.6" stroke-linecap="square"/>
<line x1="208" y1="155.8" x2="214" y2="155.8" stroke="#bdb5b2" stroke-width="2.2" stroke-linecap="square"/>
<line x1="353.8" y1="108" x2="353.8" y2="142.7" stroke="#bdb5b2" stroke-width="3.2" stroke-linecap="square"/>
<line x1="353.8" y1="108" x2="377" y2="108" stroke="#bdb5b2" stroke-width="3" stroke-linecap="square"/>
<line x1="377" y1="97.7" x2="377" y2="118.5" stroke="#bdb5b2" stroke-width="3" stroke-linecap="square"/>
<line x1="377" y1="97.7" x2="385" y2="97.7" stroke="#bdb5b2" stroke-width="3" stroke-linecap="square"/>
<line x1="385" y1="84.8" x2="385" y2="107" stroke="#bdb5b2" stroke-width="3" stroke-linecap="square"/>
<line x1="385" y1="84.8" x2="394.4" y2="84.8" stroke="#bdb5b2" stroke-width="3" stroke-linecap="square"/>
<line x1="394.4" y1="77" x2="394.4" y2="91.7" stroke="#bdb5b2" stroke-width="2.8" stroke-linecap="square"/>
<line x1="394.4" y1="77" x2="421" y2="77" stroke="#bdb5b2" stroke-width="2.8" stroke-linecap="square"/>
<line x1="421" y1="30" x2="421" y2="77" stroke="#bdb5b2" stroke-width="3" stroke-linecap="square"/>
<line x1="417.5" y1="45" x2="417.5" y2="76" stroke="#bdb5b2" stroke-width="2.4" stroke-linecap="square"/>
<line x1="421" y1="30" x2="424.3" y2="30" stroke="#bdb5b2" stroke-width="2.6" stroke-linecap="square"/>
<line x1="424.3" y1="12" x2="424.3" y2="50" stroke="#bdb5b2" stroke-width="2.6" stroke-linecap="square"/>
<line x1="412.2" y1="66" x2="412.2" y2="86.5" stroke="#bdb5b2" stroke-width="2.4" stroke-linecap="square"/>
<line x1="412.2" y1="66" x2="417.5" y2="66" stroke="#bdb5b2" stroke-width="2.2" stroke-linecap="square"/>
<line x1="377" y1="118.5" x2="393" y2="118.5" stroke="#bdb5b2" stroke-width="2.6" stroke-linecap="square"/>
<line x1="393" y1="113.8" x2="393" y2="122.4" stroke="#bdb5b2" stroke-width="2.4" stroke-linecap="square"/>
<line x1="353.8" y1="142.7" x2="385" y2="142.7" stroke="#bdb5b2" stroke-width="3" stroke-linecap="square"/>
<line x1="385" y1="132.3" x2="385" y2="150.8" stroke="#bdb5b2" stroke-width="2.6" stroke-linecap="square"/>
<line x1="385" y1="132.3" x2="396.5" y2="132.3" stroke="#bdb5b2" stroke-width="2.4" stroke-linecap="square"/>
<line x1="396.5" y1="126.5" x2="396.5" y2="138" stroke="#bdb5b2" stroke-width="2.2" stroke-linecap="square"/>
<line x1="424.3" y1="12.5" x2="430" y2="12.5" stroke="#bdb5b2" stroke-width="2.2" stroke-linecap="square"/>
<line x1="430" y1="7.4" x2="430" y2="17.5" stroke="#bdb5b2" stroke-width="2.0" stroke-linecap="square"/>
<line x1="424.3" y1="27" x2="430" y2="27" stroke="#bdb5b2" stroke-width="2.2" stroke-linecap="square"/>
<line x1="430" y1="22.2" x2="430" y2="30.3" stroke="#bdb5b2" stroke-width="2.0" stroke-linecap="square"/>
<line x1="424.3" y1="40" x2="432.7" y2="40" stroke="#bdb5b2" stroke-width="2.2" stroke-linecap="square"/>
<line x1="432.7" y1="33.6" x2="432.7" y2="45.8" stroke="#bdb5b2" stroke-width="2.0" stroke-linecap="square"/>
<line x1="421" y1="55" x2="427" y2="55" stroke="#bdb5b2" stroke-width="2.2" stroke-linecap="square"/>
<line x1="427" y1="50" x2="427" y2="61.4" stroke="#bdb5b2" stroke-width="2.0" stroke-linecap="square"/>
<line x1="421" y1="72" x2="425" y2="72" stroke="#bdb5b2" stroke-width="2.2" stroke-linecap="square"/>
<line x1="425" y1="68.4" x2="425" y2="84.4" stroke="#bdb5b2" stroke-width="2.0" stroke-linecap="square"/>
<line x1="430" y1="7.4" x2="439" y2="7.4" stroke="#bdb5b2" stroke-width="1.8" />
<line x1="439" y1="7.4" x2="450.9" y2="7.4" stroke="#b8d48a" stroke-width="1.3" />
<circle cx="450.9" cy="7.4" r="2" fill="#a9d06a" stroke="#8cb44c" stroke-width="0.5"/>
<line x1="430" y1="10.8" x2="439" y2="10.8" stroke="#bdb5b2" stroke-width="1.8" />
<line x1="439" y1="10.8" x2="446.1" y2="10.8" stroke="#b8d48a" stroke-width="1.3" />
<circle cx="446.1" cy="10.8" r="2" fill="#a9d06a" stroke="#8cb44c" stroke-width="0.5"/>
<line x1="430" y1="14.8" x2="439" y2="14.8" stroke="#bdb5b2" stroke-width="1.8" />
<line x1="439" y1="14.8" x2="448.2" y2="14.8" stroke="#b8d48a" stroke-width="1.3" />
<circle cx="448.2" cy="14.8" r="2" fill="#a9d06a" stroke="#8cb44c" stroke-width="0.5"/>
<line x1="430" y1="17.5" x2="439" y2="17.5" stroke="#bdb5b2" stroke-width="1.8" />
<line x1="439" y1="17.5" x2="448.2" y2="17.5" stroke="#b8d48a" stroke-width="1.3" />
<circle cx="448.2" cy="17.5" r="2" fill="#a9d06a" stroke="#8cb44c" stroke-width="0.5"/>
<line x1="430" y1="22.2" x2="439" y2="22.2" stroke="#bdb5b2" stroke-width="1.8" />
<line x1="439" y1="22.2" x2="450.9" y2="22.2" stroke="#b8d48a" stroke-width="1.3" />
<circle cx="450.9" cy="22.2" r="2" fill="#a9d06a" stroke="#8cb44c" stroke-width="0.5"/>
<line x1="430" y1="26.2" x2="439" y2="26.2" stroke="#bdb5b2" stroke-width="1.8" />
<line x1="439" y1="26.2" x2="444.8" y2="26.2" stroke="#b8d48a" stroke-width="1.3" />
<circle cx="444.8" cy="26.2" r="2" fill="#a9d06a" stroke="#8cb44c" stroke-width="0.5"/>
<line x1="430" y1="30.3" x2="439" y2="30.3" stroke="#bdb5b2" stroke-width="1.8" />
<line x1="439" y1="30.3" x2="446.8" y2="30.3" stroke="#b8d48a" stroke-width="1.3" />
<circle cx="446.8" cy="30.3" r="2" fill="#a9d06a" stroke="#8cb44c" stroke-width="0.5"/>
<line x1="432.7" y1="33.6" x2="440.5" y2="33.6" stroke="#bdb5b2" stroke-width="1.8" />
<line x1="440.5" y1="33.6" x2="445.5" y2="33.6" stroke="#b8d48a" stroke-width="1.3" />
<circle cx="445.5" cy="33.6" r="2" fill="#a9d06a" stroke="#8cb44c" stroke-width="0.5"/>
<line x1="432.7" y1="37.7" x2="439.8" y2="37.7" stroke="#bdb5b2" stroke-width="1.8" />
<line x1="439.8" y1="37.7" x2="444.8" y2="37.7" stroke="#b8d48a" stroke-width="1.3" />
<circle cx="444.8" cy="37.7" r="2" fill="#a9d06a" stroke="#8cb44c" stroke-width="0.5"/>
<line x1="432.7" y1="41.7" x2="440.5" y2="41.7" stroke="#bdb5b2" stroke-width="1.8" />
<line x1="440.5" y1="41.7" x2="445.5" y2="41.7" stroke="#b8d48a" stroke-width="1.3" />
<circle cx="445.5" cy="41.7" r="2" fill="#a9d06a" stroke="#8cb44c" stroke-width="0.5"/>
<line x1="432.7" y1="45.8" x2="439.8" y2="45.8" stroke="#bdb5b2" stroke-width="1.8" />
<line x1="439.8" y1="45.8" x2="444.8" y2="45.8" stroke="#b8d48a" stroke-width="1.3" />
<circle cx="444.8" cy="45.8" r="2" fill="#a9d06a" stroke="#8cb44c" stroke-width="0.5"/>
<line x1="424.3" y1="49.1" x2="433.3" y2="49.1" stroke="#bdb5b2" stroke-width="1.8" />
<line x1="433.3" y1="49.1" x2="448.2" y2="49.1" stroke="#b8d48a" stroke-width="1.3" />
<circle cx="448.2" cy="49.1" r="2" fill="#a9d06a" stroke="#8cb44c" stroke-width="0.5"/>
<line x1="427" y1="50" x2="436" y2="50" stroke="#bdb5b2" stroke-width="1.8" />
<line x1="436" y1="50" x2="448.5" y2="50" stroke="#b8d48a" stroke-width="1.3" />
<circle cx="448.5" cy="50" r="2" fill="#a9d06a" stroke="#8cb44c" stroke-width="0.5"/>
<line x1="427" y1="52.8" x2="436" y2="52.8" stroke="#bdb5b2" stroke-width="1.8" />
<line x1="436" y1="52.8" x2="445" y2="52.8" stroke="#b8d48a" stroke-width="1.3" />
<circle cx="445" cy="52.8" r="2" fill="#a9d06a" stroke="#8cb44c" stroke-width="0.5"/>
<line x1="427" y1="57" x2="436" y2="57" stroke="#bdb5b2" stroke-width="1.8" />
<line x1="436" y1="57" x2="451" y2="57" stroke="#b8d48a" stroke-width="1.3" />
<circle cx="451" cy="57" r="2" fill="#a9d06a" stroke="#8cb44c" stroke-width="0.5"/>
<line x1="427" y1="61.4" x2="436" y2="61.4" stroke="#bdb5b2" stroke-width="1.8" />
<line x1="436" y1="61.4" x2="451" y2="61.4" stroke="#b8d48a" stroke-width="1.3" />
<circle cx="451" cy="61.4" r="2" fill="#a9d06a" stroke="#8cb44c" stroke-width="0.5"/>
<line x1="425" y1="68.4" x2="434" y2="68.4" stroke="#bdb5b2" stroke-width="1.8" />
<line x1="434" y1="68.4" x2="449.4" y2="68.4" stroke="#b8d48a" stroke-width="1.3" />
<circle cx="449.4" cy="68.4" r="2" fill="#a9d06a" stroke="#8cb44c" stroke-width="0.5"/>
<line x1="425" y1="72.7" x2="434" y2="72.7" stroke="#bdb5b2" stroke-width="1.8" />
<line x1="434" y1="72.7" x2="451" y2="72.7" stroke="#b8d48a" stroke-width="1.3" />
<circle cx="451" cy="72.7" r="2" fill="#a9d06a" stroke="#8cb44c" stroke-width="0.5"/>
<line x1="425" y1="77" x2="434" y2="77" stroke="#bdb5b2" stroke-width="1.8" />
<line x1="434" y1="77" x2="448.5" y2="77" stroke="#b8d48a" stroke-width="1.3" />
<circle cx="448.5" cy="77" r="2" fill="#a9d06a" stroke="#8cb44c" stroke-width="0.5"/>
<line x1="425" y1="81.3" x2="434" y2="81.3" stroke="#bdb5b2" stroke-width="1.8" />
<line x1="434" y1="81.3" x2="448.5" y2="81.3" stroke="#b8d48a" stroke-width="1.3" />
<circle cx="448.5" cy="81.3" r="2" fill="#a9d06a" stroke="#8cb44c" stroke-width="0.5"/>
<line x1="425" y1="84.4" x2="432.3" y2="84.4" stroke="#bdb5b2" stroke-width="1.8" />
<line x1="432.3" y1="84.4" x2="437.3" y2="84.4" stroke="#b8d48a" stroke-width="1.3" />
<circle cx="437.3" cy="84.4" r="2" fill="#a9d06a" stroke="#8cb44c" stroke-width="0.5"/>
<line x1="412.2" y1="87.6" x2="421.2" y2="87.6" stroke="#bdb5b2" stroke-width="1.8" />
<line x1="421.2" y1="87.6" x2="446.3" y2="87.6" stroke="#b8d48a" stroke-width="1.3" />
<circle cx="446.3" cy="87.6" r="2" fill="#a9d06a" stroke="#8cb44c" stroke-width="0.5"/>
<line x1="394.4" y1="91.9" x2="397.4" y2="91.9" stroke="#bdb5b2" stroke-width="1.8" />
<line x1="397.4" y1="91.9" x2="448" y2="91.9" stroke="#e6a46c" stroke-width="1.4" />
<circle cx="448" cy="91.9" r="2.1" fill="#f2983e" stroke="#d07424" stroke-width="0.5"/>
<line x1="385" y1="107" x2="388" y2="107" stroke="#bdb5b2" stroke-width="1.8" />
<line x1="388" y1="107" x2="405.8" y2="107" stroke="#e6a46c" stroke-width="1.4" />
<circle cx="405.8" cy="107" r="2.1" fill="#f2983e" stroke="#d07424" stroke-width="0.5"/>
<line x1="385" y1="103.5" x2="388" y2="103.5" stroke="#bdb5b2" stroke-width="1.8" />
<line x1="388" y1="103.5" x2="426.5" y2="103.5" stroke="#e6a46c" stroke-width="1.4" />
<circle cx="426.5" cy="103.5" r="2.1" fill="#f2983e" stroke="#d07424" stroke-width="0.5"/>
<line x1="385" y1="101" x2="388" y2="101" stroke="#bdb5b2" stroke-width="1.8" />
<line x1="388" y1="101" x2="431.8" y2="101" stroke="#e6a46c" stroke-width="1.4" />
<circle cx="431.8" cy="101" r="2.1" fill="#f2983e" stroke="#d07424" stroke-width="0.5"/>
<line x1="405" y1="97.7" x2="408" y2="97.7" stroke="#bdb5b2" stroke-width="1.8" />
<line x1="408" y1="97.7" x2="430" y2="97.7" stroke="#e6a46c" stroke-width="1.4" />
<circle cx="430" cy="97.7" r="2.1" fill="#f2983e" stroke="#d07424" stroke-width="0.5"/>
<line x1="405" y1="95.4" x2="408" y2="95.4" stroke="#bdb5b2" stroke-width="1.8" />
<line x1="408" y1="95.4" x2="428.8" y2="95.4" stroke="#e6a46c" stroke-width="1.4" />
<circle cx="428.8" cy="95.4" r="2.1" fill="#f2983e" stroke="#d07424" stroke-width="0.5"/>
<line x1="393" y1="111.5" x2="396" y2="111.5" stroke="#bdb5b2" stroke-width="1.8" />
<line x1="396" y1="111.5" x2="448.5" y2="111.5" stroke="#8aa0cc" stroke-width="1.4" />
<circle cx="448.5" cy="111.5" r="2.1" fill="#6f8fd3" stroke="#4f6cac" stroke-width="0.5"/>
<line x1="400" y1="115" x2="403" y2="115" stroke="#bdb5b2" stroke-width="1.8" />
<line x1="403" y1="115" x2="424.2" y2="115" stroke="#8aa0cc" stroke-width="1.4" />
<circle cx="424.2" cy="115" r="2.1" fill="#6f8fd3" stroke="#4f6cac" stroke-width="0.5"/>
<line x1="393" y1="119.2" x2="396" y2="119.2" stroke="#bdb5b2" stroke-width="1.8" />
<line x1="396" y1="119.2" x2="448.5" y2="119.2" stroke="#e6a46c" stroke-width="1.4" />
<circle cx="448.5" cy="119.2" r="2.1" fill="#f2983e" stroke="#d07424" stroke-width="0.5"/>
<line x1="393" y1="122.4" x2="396" y2="122.4" stroke="#bdb5b2" stroke-width="1.8" />
<line x1="396" y1="122.4" x2="419.6" y2="122.4" stroke="#e6a46c" stroke-width="1.4" />
<circle cx="419.6" cy="122.4" r="2.1" fill="#f2983e" stroke="#d07424" stroke-width="0.5"/>
<line x1="396.5" y1="126.5" x2="399.5" y2="126.5" stroke="#bdb5b2" stroke-width="1.8" />
<line x1="399.5" y1="126.5" x2="433" y2="126.5" stroke="#8aa0cc" stroke-width="1.4" />
<circle cx="433" cy="126.5" r="2.1" fill="#6f8fd3" stroke="#4f6cac" stroke-width="0.5"/>
<line x1="396.5" y1="130" x2="399.5" y2="130" stroke="#bdb5b2" stroke-width="1.8" />
<line x1="399.5" y1="130" x2="432.3" y2="130" stroke="#e0c860" stroke-width="1.4" />
<circle cx="432.3" cy="130" r="2.1" fill="#f6d43c" stroke="#d8b428" stroke-width="0.5"/>
<line x1="396.5" y1="134.2" x2="399.5" y2="134.2" stroke="#bdb5b2" stroke-width="1.8" />
<line x1="399.5" y1="134.2" x2="442.7" y2="134.2" stroke="#8aa0cc" stroke-width="1.4" />
<circle cx="442.7" cy="134.2" r="2.1" fill="#6f8fd3" stroke="#4f6cac" stroke-width="0.5"/>
<line x1="396.5" y1="138" x2="399.5" y2="138" stroke="#bdb5b2" stroke-width="1.8" />
<line x1="399.5" y1="138" x2="419.6" y2="138" stroke="#8aa0cc" stroke-width="1.4" />
<circle cx="419.6" cy="138" r="2.1" fill="#6f8fd3" stroke="#4f6cac" stroke-width="0.5"/>
<line x1="385" y1="141.5" x2="388" y2="141.5" stroke="#bdb5b2" stroke-width="1.8" />
<line x1="388" y1="141.5" x2="396" y2="141.5" stroke="#e6a46c" stroke-width="1.4" />
<circle cx="396" cy="141.5" r="2.1" fill="#f2983e" stroke="#d07424" stroke-width="0.5"/>
<line x1="385" y1="145.5" x2="388" y2="145.5" stroke="#bdb5b2" stroke-width="1.8" />
<line x1="388" y1="145.5" x2="396.5" y2="145.5" stroke="#e6a46c" stroke-width="1.4" />
<circle cx="396.5" cy="145.5" r="2.1" fill="#f2983e" stroke="#d07424" stroke-width="0.5"/>
<line x1="385" y1="150" x2="388" y2="150" stroke="#bdb5b2" stroke-width="1.8" />
<line x1="388" y1="150" x2="396.5" y2="150" stroke="#e6a46c" stroke-width="1.4" />
<circle cx="396.5" cy="150" r="2.1" fill="#f2983e" stroke="#d07424" stroke-width="0.5"/>
<line x1="405" y1="95.4" x2="405" y2="101" stroke="#bdb5b2" stroke-width="1.6" stroke-linecap="square"/>
<line x1="400" y1="111.5" x2="400" y2="115" stroke="#bdb5b2" stroke-width="1.6" stroke-linecap="square"/>
<circle cx="215.6" cy="154.3" r="1.8" fill="#f2983e" stroke="#d07424" stroke-width="0.5"/>
<circle cx="218.2" cy="156.6" r="1.8" fill="#f2983e" stroke="#d07424" stroke-width="0.5"/>
<circle cx="219.6" cy="154.6" r="1.8" fill="#f2983e" stroke="#d07424" stroke-width="0.5"/>
<text x="207" y="118.8" font-size="15.5" fill="#1a1a1a" text-anchor="start" font-family="Liberation Sans, sans-serif" >39 spike mutations</text>
<text x="418.6" y="154" font-size="11.6" fill="#1a1a1a" text-anchor="start" font-family="Liberation Sans, sans-serif" >outgrowth</text>
<line x1="416.6" y1="149" x2="400.8" y2="144.8" stroke="#111" stroke-width="1" />
<text x="0.5" y="259" font-size="13.6" fill="#111" text-anchor="start" font-family="Liberation Serif, serif" >B</text>
<rect x="63.5" y="269.4" width="451.7" height="12.1" fill="#b5d586" />
<rect x="67" y="275" width="141.75" height="11.5" fill="#a9c5de" />
<rect x="208.75" y="274.5" width="111.05" height="12.5" fill="#f48e8c" />
<rect x="272.3" y="278.8" width="34.2" height="12.5" fill="#d2a6d6" opacity="0.9"/>
<rect x="390" y="273.8" width="3.8" height="12.2" fill="#f2a244" />
<text x="68.2" y="285.7" font-size="11.9" fill="#3b6db4" text-anchor="start" font-family="Liberation Sans, sans-serif" >NTD</text>
<text x="210" y="285.6" font-size="11.8" fill="#e8383a" text-anchor="start" font-family="Liberation Sans, sans-serif" >RBD</text>
<text x="273" y="290" font-size="11.2" fill="#8a3fae" text-anchor="start" font-family="Liberation Sans, sans-serif" >RBM</text>
<text x="281.6" y="262.6" font-size="14" fill="#3d9a3a" text-anchor="start" font-family="Liberation Sans, sans-serif" font-weight="bold" >Spike</text>
<text x="380.6" y="268.2" font-size="12" fill="#ef8a3a" text-anchor="start" font-family="Liberation Sans, sans-serif" >S1/S2</text>
<path d="M65.5,269.0 L65.5,295.4 L11.3,295.4 L11.3,367.5" stroke="#4a4a4a" stroke-width="0.9" fill="none" />
<path d="M64.1,266.6 L65.5,269 L66.9,266.6" stroke="#4a4a4a" stroke-width="0.8" fill="none" />
<text x="13.9" y="370.1" font-size="4.5" fill="#141414" text-anchor="end" font-family="Liberation Sans, sans-serif" font-weight="bold" transform="rotate(-45 13.9 370.1)">P9L</text>
<path d="M94.2,269.0 L94.2,297.63 L19.8,297.63 L19.8,367.5" stroke="#4a4a4a" stroke-width="0.9" fill="none" />
<path d="M92.8,266.6 L94.2,269 L95.6,266.6" stroke="#4a4a4a" stroke-width="0.8" fill="none" />
<text x="22.4" y="370.1" font-size="4.5" fill="#141414" text-anchor="end" font-family="Liberation Sans, sans-serif" font-weight="bold" transform="rotate(-45 22.4 370.1)">A67V</text>
<path d="M94.8,269.0 L94.8,299.86 L28.3,299.86 L28.3,367.5" stroke="#4a4a4a" stroke-width="0.9" fill="none" />
<path d="M93.4,266.6 L94.8,269 L96.2,266.6" stroke="#4a4a4a" stroke-width="0.8" fill="none" />
<text x="30.9" y="370.1" font-size="4.5" fill="#141414" text-anchor="end" font-family="Liberation Sans, sans-serif" font-weight="bold" transform="rotate(-45 30.9 370.1)">Δ69-70</text>
<path d="M107.7,269.0 L107.7,302.09 L36.8,302.09 L36.8,367.5" stroke="#4a4a4a" stroke-width="0.9" fill="none" />
<path d="M106.3,266.6 L107.7,269 L109.1,266.6" stroke="#4a4a4a" stroke-width="0.8" fill="none" />
<text x="39.4" y="370.1" font-size="4.5" fill="#141414" text-anchor="end" font-family="Liberation Sans, sans-serif" font-weight="bold" transform="rotate(-45 39.4 370.1)">T95I</text>
<path d="M110.2,269.0 L110.2,304.32 L45.3,304.32 L45.3,367.5" stroke="#4a4a4a" stroke-width="0.9" fill="none" />
<path d="M108.8,266.6 L110.2,269 L111.6,266.6" stroke="#4a4a4a" stroke-width="0.8" fill="none" />
<text x="47.9" y="370.1" font-size="4.5" fill="#141414" text-anchor="end" font-family="Liberation Sans, sans-serif" font-weight="bold" transform="rotate(-45 47.9 370.1)">I101T</text>
<path d="M127,269.0 L127,306.55 L53.8,306.55 L53.8,367.5" stroke="#4a4a4a" stroke-width="0.9" fill="none" />
<path d="M125.6,266.6 L127,269 L128.4,266.6" stroke="#4a4a4a" stroke-width="0.8" fill="none" />
<text x="56.4" y="370.1" font-size="4.5" fill="#141414" text-anchor="end" font-family="Liberation Sans, sans-serif" font-weight="bold" transform="rotate(-45 56.4 370.1)">Δ136-147</text>
<path d="M137.1,269.0 L137.1,308.78 L62.3,308.78 L62.3,367.5" stroke="#4a4a4a" stroke-width="0.9" fill="none" />
<path d="M135.7,266.6 L137.1,269 L138.5,266.6" stroke="#4a4a4a" stroke-width="0.8" fill="none" />
<text x="64.9" y="370.1" font-size="4.5" fill="#141414" text-anchor="end" font-family="Liberation Sans, sans-serif" font-weight="bold" transform="rotate(-45 64.9 370.1)">F157S</text>
<path d="M141.5,269.0 L141.5,311.01 L70.8,311.01 L70.8,367.5" stroke="#f2867a" stroke-width="0.9" fill="none" />
<path d="M140.1,266.6 L141.5,269 L142.9,266.6" stroke="#f2867a" stroke-width="0.8" fill="none" />
<text x="73.4" y="370.1" font-size="4.5" fill="#f04a3a" text-anchor="end" font-family="Liberation Sans, sans-serif" font-weight="bold" transform="rotate(-45 73.4 370.1)">N164K</text>
<path d="M144.8,269.0 L144.8,313.24 L79.3,313.24 L79.3,367.5" stroke="#f2867a" stroke-width="0.9" fill="none" />
<path d="M143.4,266.6 L144.8,269 L146.2,266.6" stroke="#f2867a" stroke-width="0.8" fill="none" />
<text x="81.9" y="370.1" font-size="4.5" fill="#f04a3a" text-anchor="end" font-family="Liberation Sans, sans-serif" font-weight="bold" transform="rotate(-45 81.9 370.1)">S172F</text>
<path d="M151.5,269.0 L151.5,315.47 L87.8,315.47 L87.8,367.5" stroke="#f2867a" stroke-width="0.9" fill="none" />
<path d="M150.1,266.6 L151.5,269 L152.9,266.6" stroke="#f2867a" stroke-width="0.8" fill="none" />
<text x="90.4" y="370.1" font-size="4.5" fill="#f04a3a" text-anchor="end" font-family="Liberation Sans, sans-serif" font-weight="bold" transform="rotate(-45 90.4 370.1)">K187T</text>
<path d="M163.3,269.0 L163.3,317.7 L96.3,317.7 L96.3,367.5" stroke="#4a4a4a" stroke-width="0.9" fill="none" />
<path d="M161.9,266.6 L163.3,269 L164.7,266.6" stroke="#4a4a4a" stroke-width="0.8" fill="none" />
<text x="98.9" y="370.1" font-size="4.5" fill="#141414" text-anchor="end" font-family="Liberation Sans, sans-serif" font-weight="bold" transform="rotate(-45 98.9 370.1)">A211I</text>
<path d="M164.3,269.0 L164.3,319.93 L104.8,319.93 L104.8,367.5" stroke="#4a4a4a" stroke-width="0.9" fill="none" />
<path d="M162.9,266.6 L164.3,269 L165.7,266.6" stroke="#4a4a4a" stroke-width="0.8" fill="none" />
<text x="107.4" y="370.1" font-size="4.5" fill="#141414" text-anchor="end" font-family="Liberation Sans, sans-serif" font-weight="bold" transform="rotate(-45 107.4 370.1)">L212I</text>
<path d="M178.5,269.0 L178.5,322.16 L113.3,322.16 L113.3,367.5" stroke="#4a4a4a" stroke-width="0.9" fill="none" />
<path d="M177.1,266.6 L178.5,269 L179.9,266.6" stroke="#4a4a4a" stroke-width="0.8" fill="none" />
<text x="115.9" y="370.1" font-size="4.5" fill="#141414" text-anchor="end" font-family="Liberation Sans, sans-serif" font-weight="bold" transform="rotate(-45 115.9 370.1)">R214ins_ADT</text>
<path d="M182,269.0 L182,324.39 L121.8,324.39 L121.8,367.5" stroke="#4a4a4a" stroke-width="0.9" fill="none" />
<path d="M180.6,266.6 L182,269 L183.4,266.6" stroke="#4a4a4a" stroke-width="0.8" fill="none" />
<text x="124.4" y="370.1" font-size="4.5" fill="#141414" text-anchor="end" font-family="Liberation Sans, sans-serif" font-weight="bold" transform="rotate(-45 124.4 370.1)">Δ242-243</text>
<path d="M183.5,269.0 L183.5,326.62 L130.3,326.62 L130.3,367.5" stroke="#4a4a4a" stroke-width="0.9" fill="none" />
<path d="M182.1,266.6 L183.5,269 L184.9,266.6" stroke="#4a4a4a" stroke-width="0.8" fill="none" />
<text x="132.9" y="370.1" font-size="4.5" fill="#141414" text-anchor="end" font-family="Liberation Sans, sans-serif" font-weight="bold" transform="rotate(-45 132.9 370.1)">P251S</text>
<path d="M217.5,269.0 L217.5,328.85 L138.8,328.85 L138.8,367.5" stroke="#f2867a" stroke-width="0.9" fill="none" />
<path d="M216.1,266.6 L217.5,269 L218.9,266.6" stroke="#f2867a" stroke-width="0.8" fill="none" />
<text x="141.4" y="370.1" font-size="4.5" fill="#f04a3a" text-anchor="end" font-family="Liberation Sans, sans-serif" font-weight="bold" transform="rotate(-45 141.4 370.1)">D339H</text>
<path d="M223.75,269.0 L223.75,331.08 L147.3,331.08 L147.3,367.5" stroke="#f2867a" stroke-width="0.9" fill="none" />
<path d="M222.35,266.6 L223.75,269 L225.15,266.6" stroke="#f2867a" stroke-width="0.8" fill="none" />
<text x="149.9" y="370.1" font-size="4.5" fill="#f04a3a" text-anchor="end" font-family="Liberation Sans, sans-serif" font-weight="bold" transform="rotate(-45 149.9 370.1)">G339D</text>
<path d="M228.75,269.0 L228.75,333.31 L155.8,333.31 L155.8,367.5" stroke="#f2867a" stroke-width="0.9" fill="none" />
<path d="M227.35,266.6 L228.75,269 L230.15,266.6" stroke="#f2867a" stroke-width="0.8" fill="none" />
<text x="158.4" y="370.1" font-size="4.5" fill="#f04a3a" text-anchor="end" font-family="Liberation Sans, sans-serif" font-weight="bold" transform="rotate(-45 158.4 370.1)">A348P</text>
<path d="M240.5,269.0 L240.5,335.31 L164.3,335.31 L164.3,367.5" stroke="#98b2dc" stroke-width="0.9" fill="none" />
<path d="M239.1,266.6 L240.5,269 L241.9,266.6" stroke="#98b2dc" stroke-width="0.8" fill="none" />
<text x="166.9" y="370.1" font-size="4.5" fill="#5a7cc4" text-anchor="end" font-family="Liberation Sans, sans-serif" font-weight="bold" transform="rotate(-45 166.9 370.1)">S371F</text>
<path d="M242,269.0 L242,337.31 L172.8,337.31 L172.8,367.5" stroke="#4a4a4a" stroke-width="0.9" fill="none" />
<path d="M240.6,266.6 L242,269 L243.4,266.6" stroke="#4a4a4a" stroke-width="0.8" fill="none" />
<text x="175.4" y="370.1" font-size="4.5" fill="#141414" text-anchor="end" font-family="Liberation Sans, sans-serif" font-weight="bold" transform="rotate(-45 175.4 370.1)">S373P</text>
<path d="M257,269.0 L257,339.31 L181.3,339.31 L181.3,367.5" stroke="#4a4a4a" stroke-width="0.9" fill="none" />
<path d="M255.6,266.6 L257,269 L258.4,266.6" stroke="#4a4a4a" stroke-width="0.8" fill="none" />
<text x="183.9" y="370.1" font-size="4.5" fill="#141414" text-anchor="end" font-family="Liberation Sans, sans-serif" font-weight="bold" transform="rotate(-45 183.9 370.1)">S375F</text>
<path d="M258.3,269.0 L258.3,341.31 L189.8,341.31 L189.8,367.5" stroke="#f2867a" stroke-width="0.9" fill="none" />
<path d="M256.9,266.6 L258.3,269 L259.7,266.6" stroke="#f2867a" stroke-width="0.8" fill="none" />
<text x="192.4" y="370.1" font-size="4.5" fill="#f04a3a" text-anchor="end" font-family="Liberation Sans, sans-serif" font-weight="bold" transform="rotate(-45 192.4 370.1)">R403K</text>
<path d="M262.7,269.0 L262.7,343.31 L198.3,343.31 L198.3,367.5" stroke="#98b2dc" stroke-width="0.9" fill="none" />
<path d="M261.3,266.6 L262.7,269 L264.1,266.6" stroke="#98b2dc" stroke-width="0.8" fill="none" />
<text x="200.9" y="370.1" font-size="4.5" fill="#5a7cc4" text-anchor="end" font-family="Liberation Sans, sans-serif" font-weight="bold" transform="rotate(-45 200.9 370.1)">D405N</text>
<path d="M265,269.0 L265,345.31 L206.8,345.31 L206.8,367.5" stroke="#4a4a4a" stroke-width="0.9" fill="none" />
<path d="M263.6,266.6 L265,269 L266.4,266.6" stroke="#4a4a4a" stroke-width="0.8" fill="none" />
<text x="209.4" y="370.1" font-size="4.5" fill="#141414" text-anchor="end" font-family="Liberation Sans, sans-serif" font-weight="bold" transform="rotate(-45 209.4 370.1)">R408S</text>
<path d="M268,269.0 L268,347.31 L215.3,347.31 L215.3,367.5" stroke="#98b2dc" stroke-width="0.9" fill="none" />
<path d="M266.6,266.6 L268,269 L269.4,266.6" stroke="#98b2dc" stroke-width="0.8" fill="none" />
<text x="217.9" y="370.1" font-size="4.5" fill="#5a7cc4" text-anchor="end" font-family="Liberation Sans, sans-serif" font-weight="bold" transform="rotate(-45 217.9 370.1)">K417N</text>
<path d="M271.7,269.0 L271.7,349.31 L223.8,349.31 L223.8,367.5" stroke="#f2867a" stroke-width="0.9" fill="none" />
<path d="M270.3,266.6 L271.7,269 L273.1,266.6" stroke="#f2867a" stroke-width="0.8" fill="none" />
<text x="226.4" y="370.1" font-size="4.5" fill="#f04a3a" text-anchor="end" font-family="Liberation Sans, sans-serif" font-weight="bold" transform="rotate(-45 226.4 370.1)">A435S</text>
<path d="M273,269.0 L273,351.31 L232.3,351.31 L232.3,367.5" stroke="#f2867a" stroke-width="0.9" fill="none" />
<path d="M271.6,266.6 L273,269 L274.4,266.6" stroke="#f2867a" stroke-width="0.8" fill="none" />
<text x="234.9" y="370.1" font-size="4.5" fill="#f04a3a" text-anchor="end" font-family="Liberation Sans, sans-serif" font-weight="bold" transform="rotate(-45 234.9 370.1)">N440K</text>
<path d="M275.6,269.0 L275.6,353.31 L240.8,353.31 L240.8,367.5" stroke="#f2867a" stroke-width="0.9" fill="none" />
<path d="M274.2,266.6 L275.6,269 L277,266.6" stroke="#f2867a" stroke-width="0.8" fill="none" />
<text x="243.4" y="370.1" font-size="4.5" fill="#f04a3a" text-anchor="end" font-family="Liberation Sans, sans-serif" font-weight="bold" transform="rotate(-45 243.4 370.1)">V445A</text>
<path d="M277.5,269.0 L277.5,355.31 L249.3,355.31 L249.3,367.5" stroke="#f2867a" stroke-width="0.9" fill="none" />
<path d="M276.1,266.6 L277.5,269 L278.9,266.6" stroke="#f2867a" stroke-width="0.8" fill="none" />
<text x="251.9" y="370.1" font-size="4.5" fill="#f04a3a" text-anchor="end" font-family="Liberation Sans, sans-serif" font-weight="bold" transform="rotate(-45 251.9 370.1)">G446S</text>
<path d="M279.4,269.0 L279.4,357.31 L256.25,357.31 L256.25,367.5" stroke="#f2867a" stroke-width="0.9" fill="none" />
<path d="M278,266.6 L279.4,269 L280.8,266.6" stroke="#f2867a" stroke-width="0.8" fill="none" />
<text x="258.85" y="370.1" font-size="4.5" fill="#f04a3a" text-anchor="end" font-family="Liberation Sans, sans-serif" font-weight="bold" transform="rotate(-45 258.85 370.1)">L452W</text>
<path d="M283.3,269.0 L283.3,359.31 L265,359.31 L265,367.5" stroke="#98b2dc" stroke-width="0.9" fill="none" />
<path d="M281.9,266.6 L283.3,269 L284.7,266.6" stroke="#98b2dc" stroke-width="0.8" fill="none" />
<text x="267.6" y="370.1" font-size="4.5" fill="#5a7cc4" text-anchor="end" font-family="Liberation Sans, sans-serif" font-weight="bold" transform="rotate(-45 267.6 370.1)">N460K</text>
<path d="M287,269.0 L287,361.31 L273,361.31 L273,367.5" stroke="#4a4a4a" stroke-width="0.9" fill="none" />
<path d="M285.6,266.6 L287,269 L288.4,266.6" stroke="#4a4a4a" stroke-width="0.8" fill="none" />
<text x="275.6" y="370.1" font-size="4.5" fill="#141414" text-anchor="end" font-family="Liberation Sans, sans-serif" font-weight="bold" transform="rotate(-45 275.6 370.1)">S477N</text>
<path d="M291.5,269.0 L291.5,363.31 L281.25,363.31 L281.25,367.5" stroke="#f2867a" stroke-width="0.9" fill="none" />
<path d="M290.1,266.6 L291.5,269 L292.9,266.6" stroke="#f2867a" stroke-width="0.8" fill="none" />
<text x="283.85" y="370.1" font-size="4.5" fill="#f04a3a" text-anchor="end" font-family="Liberation Sans, sans-serif" font-weight="bold" transform="rotate(-45 283.85 370.1)">T478K</text>
<path d="M295.3,269.0 L295.3,295.4 L293.75,295.4 L293.75,367.5" stroke="#98b2dc" stroke-width="0.9" fill="none" />
<path d="M293.9,266.6 L295.3,269 L296.7,266.6" stroke="#98b2dc" stroke-width="0.8" fill="none" />
<text x="296.35" y="370.1" font-size="4.5" fill="#5a7cc4" text-anchor="end" font-family="Liberation Sans, sans-serif" font-weight="bold" transform="rotate(-45 296.35 370.1)">E484A</text>
<path d="M299.5,269.0 L299.5,295.4 L298.75,295.4 L298.75,367.5" stroke="#98b2dc" stroke-width="0.9" fill="none" />
<path d="M298.1,266.6 L299.5,269 L300.9,266.6" stroke="#98b2dc" stroke-width="0.8" fill="none" />
<text x="301.35" y="370.1" font-size="4.5" fill="#5a7cc4" text-anchor="end" font-family="Liberation Sans, sans-serif" font-weight="bold" transform="rotate(-45 301.35 370.1)">Q493R</text>
<path d="M301.6,269.0 L301.6,299.86 L310,299.86 L310,367.5" stroke="#4a4a4a" stroke-width="0.9" fill="none" />
<path d="M300.2,266.6 L301.6,269 L303,266.6" stroke="#4a4a4a" stroke-width="0.8" fill="none" />
<text x="312.6" y="370.1" font-size="4.5" fill="#141414" text-anchor="end" font-family="Liberation Sans, sans-serif" font-weight="bold" transform="rotate(-45 312.6 370.1)">Q498R</text>
<path d="M302.7,269.0 L302.7,297.63 L317,297.63 L317,367.5" stroke="#98b2dc" stroke-width="0.9" fill="none" />
<path d="M301.3,266.6 L302.7,269 L304.1,266.6" stroke="#98b2dc" stroke-width="0.8" fill="none" />
<text x="319.6" y="370.1" font-size="4.5" fill="#5a7cc4" text-anchor="end" font-family="Liberation Sans, sans-serif" font-weight="bold" transform="rotate(-45 319.6 370.1)">N501Y</text>
<path d="M316.4,269.0 L316.4,295.4 L326.25,295.4 L326.25,367.5" stroke="#f2867a" stroke-width="0.9" fill="none" />
<path d="M315,266.6 L316.4,269 L317.8,266.6" stroke="#f2867a" stroke-width="0.8" fill="none" />
<text x="328.85" y="370.1" font-size="4.5" fill="#f04a3a" text-anchor="end" font-family="Liberation Sans, sans-serif" font-weight="bold" transform="rotate(-45 328.85 370.1)">K529N</text>
<path d="M328,269.0 L328,295.4 L335,295.4 L335,367.5" stroke="#4a4a4a" stroke-width="0.9" fill="none" />
<path d="M326.6,266.6 L328,269 L329.4,266.6" stroke="#4a4a4a" stroke-width="0.8" fill="none" />
<text x="337.6" y="370.1" font-size="4.5" fill="#141414" text-anchor="end" font-family="Liberation Sans, sans-serif" font-weight="bold" transform="rotate(-45 337.6 370.1)">E554K</text>
<path d="M341.8,269.0 L341.8,367.5" stroke="#4a4a4a" stroke-width="0.9" fill="none" />
<path d="M340.4,266.6 L341.8,269 L343.2,266.6" stroke="#4a4a4a" stroke-width="0.8" fill="none" />
<text x="343.85" y="370.1" font-size="4.5" fill="#141414" text-anchor="end" font-family="Liberation Sans, sans-serif" font-weight="bold" transform="rotate(-45 343.85 370.1)">E583D</text>
<path d="M363,269.0 L363,295.4 L361.25,295.4 L361.25,367.5" stroke="#f2867a" stroke-width="0.9" fill="none" />
<path d="M361.6,266.6 L363,269 L364.4,266.6" stroke="#f2867a" stroke-width="0.8" fill="none" />
<text x="363.85" y="370.1" font-size="4.5" fill="#f04a3a" text-anchor="end" font-family="Liberation Sans, sans-serif" font-weight="bold" transform="rotate(-45 363.85 370.1)">H655Y</text>
<path d="M370.4,269.0 L370.4,295.4 L369.5,295.4 L369.5,367.5" stroke="#f2867a" stroke-width="0.9" fill="none" />
<path d="M369,266.6 L370.4,269 L371.8,266.6" stroke="#f2867a" stroke-width="0.8" fill="none" />
<text x="372.1" y="370.1" font-size="4.5" fill="#f04a3a" text-anchor="end" font-family="Liberation Sans, sans-serif" font-weight="bold" transform="rotate(-45 372.1 370.1)">N679K</text>
<path d="M371.2,269.0 L371.2,322.16 L378,322.16 L378,367.5" stroke="#f2867a" stroke-width="0.9" fill="none" />
<path d="M369.8,266.6 L371.2,269 L372.6,266.6" stroke="#f2867a" stroke-width="0.8" fill="none" />
<text x="380.6" y="370.1" font-size="4.5" fill="#f04a3a" text-anchor="end" font-family="Liberation Sans, sans-serif" font-weight="bold" transform="rotate(-45 380.6 370.1)">P681H</text>
<path d="M376.3,269.0 L376.3,319.93 L387.5,319.93 L387.5,367.5" stroke="#4a4a4a" stroke-width="0.9" fill="none" />
<path d="M374.9,266.6 L376.3,269 L377.7,266.6" stroke="#4a4a4a" stroke-width="0.8" fill="none" />
<text x="390.1" y="370.1" font-size="4.5" fill="#141414" text-anchor="end" font-family="Liberation Sans, sans-serif" font-weight="bold" transform="rotate(-45 390.1 370.1)">E780A</text>
<path d="M377.3,269.0 L377.3,317.7 L395.9,317.7 L395.9,367.5" stroke="#4a4a4a" stroke-width="0.9" fill="none" />
<path d="M375.9,266.6 L377.3,269 L378.7,266.6" stroke="#4a4a4a" stroke-width="0.8" fill="none" />
<text x="398.5" y="370.1" font-size="4.5" fill="#141414" text-anchor="end" font-family="Liberation Sans, sans-serif" font-weight="bold" transform="rotate(-45 398.5 370.1)">H954Q</text>
<path d="M388.7,269.0 L388.7,315.47 L404.3,315.47 L404.3,367.5" stroke="#f2867a" stroke-width="0.9" fill="none" />
<path d="M387.3,266.6 L388.7,269 L390.1,266.6" stroke="#f2867a" stroke-width="0.8" fill="none" />
<text x="406.9" y="370.1" font-size="4.5" fill="#f04a3a" text-anchor="end" font-family="Liberation Sans, sans-serif" font-weight="bold" transform="rotate(-45 406.9 370.1)">N764K</text>
<path d="M392.7,269.0 L392.7,313.24 L412.6,313.24 L412.6,367.5" stroke="#f2867a" stroke-width="0.9" fill="none" />
<path d="M391.3,266.6 L392.7,269 L394.1,266.6" stroke="#f2867a" stroke-width="0.8" fill="none" />
<text x="415.2" y="370.1" font-size="4.5" fill="#f04a3a" text-anchor="end" font-family="Liberation Sans, sans-serif" font-weight="bold" transform="rotate(-45 415.2 370.1)">A899S</text>
<path d="M397.3,269.0 L397.3,311.01 L421.8,311.01 L421.8,367.5" stroke="#4a4a4a" stroke-width="0.9" fill="none" />
<path d="M395.9,266.6 L397.3,269 L398.7,266.6" stroke="#4a4a4a" stroke-width="0.8" fill="none" />
<text x="424.4" y="370.1" font-size="4.5" fill="#141414" text-anchor="end" font-family="Liberation Sans, sans-serif" font-weight="bold" transform="rotate(-45 424.4 370.1)">E969K</text>
<path d="M411.1,269.0 L411.1,308.78 L430.2,308.78 L430.2,367.5" stroke="#4a4a4a" stroke-width="0.9" fill="none" />
<path d="M409.7,266.6 L411.1,269 L412.5,266.6" stroke="#4a4a4a" stroke-width="0.8" fill="none" />
<text x="432.8" y="370.1" font-size="4.5" fill="#141414" text-anchor="end" font-family="Liberation Sans, sans-serif" font-weight="bold" transform="rotate(-45 432.8 370.1)">N856K</text>
<path d="M418,269.0 L418,306.55 L438.6,306.55 L438.6,367.5" stroke="#f2867a" stroke-width="0.9" fill="none" />
<path d="M416.6,266.6 L418,269 L419.4,266.6" stroke="#f2867a" stroke-width="0.8" fill="none" />
<text x="441.2" y="370.1" font-size="4.5" fill="#f04a3a" text-anchor="end" font-family="Liberation Sans, sans-serif" font-weight="bold" transform="rotate(-45 441.2 370.1)">K969T</text>
<path d="M418.3,269.0 L418.3,304.32 L447,304.32 L447,367.5" stroke="#4a4a4a" stroke-width="0.9" fill="none" />
<path d="M416.9,266.6 L418.3,269 L419.7,266.6" stroke="#4a4a4a" stroke-width="0.8" fill="none" />
<text x="449.6" y="370.1" font-size="4.5" fill="#141414" text-anchor="end" font-family="Liberation Sans, sans-serif" font-weight="bold" transform="rotate(-45 449.6 370.1)">D936H</text>
<path d="M431.2,269.0 L431.2,302.09 L455.9,302.09 L455.9,367.5" stroke="#f2867a" stroke-width="0.9" fill="none" />
<path d="M429.8,266.6 L431.2,269 L432.6,266.6" stroke="#f2867a" stroke-width="0.8" fill="none" />
<text x="458.5" y="370.1" font-size="4.5" fill="#f04a3a" text-anchor="end" font-family="Liberation Sans, sans-serif" font-weight="bold" transform="rotate(-45 458.5 370.1)">A1020S</text>
<path d="M451.2,269.0 L451.2,299.86 L464.2,299.86 L464.2,367.5" stroke="#4a4a4a" stroke-width="0.9" fill="none" />
<path d="M449.8,266.6 L451.2,269 L452.6,266.6" stroke="#4a4a4a" stroke-width="0.8" fill="none" />
<text x="466.8" y="370.1" font-size="4.5" fill="#141414" text-anchor="end" font-family="Liberation Sans, sans-serif" font-weight="bold" transform="rotate(-45 466.8 370.1)">S939F</text>
<path d="M454.2,269.0 L454.2,297.63 L472.6,297.63 L472.6,367.5" stroke="#4a4a4a" stroke-width="0.9" fill="none" />
<path d="M452.8,266.6 L454.2,269 L455.6,266.6" stroke="#4a4a4a" stroke-width="0.8" fill="none" />
<text x="475.2" y="370.1" font-size="4.5" fill="#141414" text-anchor="end" font-family="Liberation Sans, sans-serif" font-weight="bold" transform="rotate(-45 475.2 370.1)">Q954H</text>
<path d="M458,269.0 L458,295.4 L481,295.4 L481,367.5" stroke="#98b2dc" stroke-width="0.9" fill="none" />
<path d="M456.6,266.6 L458,269 L459.4,266.6" stroke="#98b2dc" stroke-width="0.8" fill="none" />
<text x="483.6" y="370.1" font-size="4.5" fill="#5a7cc4" text-anchor="end" font-family="Liberation Sans, sans-serif" font-weight="bold" transform="rotate(-45 483.6 370.1)">N969K</text>
<path d="M507,269.0 L507,295.4 L506,295.4 L506,367.5" stroke="#f2867a" stroke-width="0.9" fill="none" />
<path d="M505.6,266.6 L507,269 L508.4,266.6" stroke="#f2867a" stroke-width="0.8" fill="none" />
<text x="508.6" y="370.1" font-size="4.5" fill="#f04a3a" text-anchor="end" font-family="Liberation Sans, sans-serif" font-weight="bold" transform="rotate(-45 508.6 370.1)">D1146E</text>
<text x="0.4" y="410.2" font-size="14" fill="#111" text-anchor="start" font-family="Liberation Serif, serif" >C</text>
<rect x="436.5" y="409.8" width="25.5" height="25.6" fill="#dcd4d2" />
<polygon points="45,448.6 436.5,435.4 462,435.4 484,449.3 45,449.3" fill="#dcd4d2" />
<rect x="32.2" y="407.2" width="465.4" height="74.6" fill="none" stroke="#e8868a" stroke-width="1.5"/>
<rect x="48.75" y="417" width="193" height="6.3" fill="#62a690" />
<text x="146" y="422.6" font-size="9.1" fill="#1a1a1a" text-anchor="middle" font-family="Liberation Sans, sans-serif" >ORF1a</text>
<rect x="242.5" y="410.1" width="117.9" height="6.3" fill="#e2a93c" />
<text x="302.5" y="415.7" font-size="9.1" fill="#1a1a1a" text-anchor="middle" font-family="Liberation Sans, sans-serif" >ORF1b</text>
<rect x="361" y="417.2" width="55.3" height="6.2" fill="#5b8cb0" />
<text x="385" y="422.7" font-size="9.1" fill="#1a1a1a" text-anchor="middle" font-family="Liberation Sans, sans-serif" >S</text>
<rect x="417" y="417.2" width="11" height="6.2" fill="#ea6a3c" />
<rect x="429.8" y="417.2" width="1.9" height="6.2" fill="#86c06a" />
<rect x="433.8" y="417.2" width="8.7" height="6.2" fill="#e4a040" />
<text x="438.2" y="422.7" font-size="8.2" fill="#3a1a08" text-anchor="middle" font-family="Liberation Sans, sans-serif" >M</text>
<rect x="444.2" y="417.2" width="1.6" height="6.2" fill="#b8d070" />
<rect x="446.8" y="417.2" width="3.9" height="6.2" fill="#e8503c" />
<rect x="452.6" y="410.2" width="1.2" height="5" fill="#e8c860" />
<rect x="454" y="417.2" width="4" height="6.2" fill="#92c482" />
<rect x="459.4" y="409.8" width="2.8" height="5.2" fill="#e2a844" />
<rect x="460.8" y="417.2" width="16.2" height="6.2" fill="#6caa92" />
<text x="467.5" y="422.8" font-size="9.1" fill="#1a1a1a" text-anchor="middle" font-family="Liberation Sans, sans-serif" >N</text>
<text x="45" y="442" font-size="13.6" fill="#1a1a1a" text-anchor="start" font-family="Liberation Sans, sans-serif" >Wuhan-Hu-1</text>
<polygon points="45,456.4 148.5,456.4 155,460.95 148.5,465.5 45,465.5" fill="#f2ad6c" />
<text x="96.3" y="464.4" font-size="9.4" fill="#1a1a1a" text-anchor="middle" font-family="Liberation Sans, sans-serif" >M</text>
<polygon points="157.7,456.4 195.5,456.4 202,460.95 195.5,465.5 157.7,465.5" fill="#c8dd8c" />
<text x="179" y="464.4" font-size="9.4" fill="#1a1a1a" text-anchor="middle" font-family="Liberation Sans, sans-serif" >ORF6</text>
<polygon points="205.6,456.4 287.9,456.4 294.4,460.95 287.9,465.5 205.6,465.5" fill="#ea725e" />
<text x="252" y="464.4" font-size="9.4" fill="#1a1a1a" text-anchor="middle" font-family="Liberation Sans, sans-serif" >ORF7a</text>
<polygon points="295,452 321,452 327.5,456.5 321,461 295,461" fill="#e6d07e" />
<text x="309.2" y="459.9" font-size="9.4" fill="#1a1a1a" text-anchor="middle" font-family="Liberation Sans, sans-serif" >ORF7b</text>
<polygon points="329.4,456.8 412.5,456.8 419,461.15 412.5,465.5 329.4,465.5" fill="#aad59c" />
<text x="372" y="464.4" font-size="9.4" fill="#1a1a1a" text-anchor="middle" font-family="Liberation Sans, sans-serif" >ORF8</text>
<polygon points="423.6,458.3 475.3,458.3 481.8,461.95 475.3,465.6 423.6,465.6" fill="#8ec4b2" />
<polygon points="425.8,451.8 475.8,451.8 482.3,455.7 475.8,459.6 425.8,459.6" fill="#ddb65e" />
<text x="453" y="458.6" font-size="9.4" fill="#1a1a1a" text-anchor="middle" font-family="Liberation Sans, sans-serif" >ORF9b</text>
<text x="450" y="465.6" font-size="9.4" fill="#1a1a1a" text-anchor="middle" font-family="Liberation Sans, sans-serif" >N</text>
<line x1="45" y1="469" x2="483" y2="469" stroke="#333" stroke-width="0.9" />
<line x1="57.8" y1="466.8" x2="57.8" y2="471.2" stroke="#333" stroke-width="0.9" />
<text x="57.8" y="477.9" font-size="8.1" fill="#1a1a1a" text-anchor="middle" font-family="Liberation Sans, sans-serif" >26800</text>
<line x1="107.5" y1="466.8" x2="107.5" y2="471.2" stroke="#333" stroke-width="0.9" />
<text x="107.5" y="477.9" font-size="8.1" fill="#1a1a1a" text-anchor="middle" font-family="Liberation Sans, sans-serif" >27000</text>
<line x1="157.2" y1="466.8" x2="157.2" y2="471.2" stroke="#333" stroke-width="0.9" />
<text x="157.2" y="477.9" font-size="8.1" fill="#1a1a1a" text-anchor="middle" font-family="Liberation Sans, sans-serif" >27200</text>
<line x1="206.9" y1="466.8" x2="206.9" y2="471.2" stroke="#333" stroke-width="0.9" />
<text x="206.9" y="477.9" font-size="8.1" fill="#1a1a1a" text-anchor="middle" font-family="Liberation Sans, sans-serif" >27400</text>
<line x1="256.6" y1="466.8" x2="256.6" y2="471.2" stroke="#333" stroke-width="0.9" />
<text x="256.6" y="477.9" font-size="8.1" fill="#1a1a1a" text-anchor="middle" font-family="Liberation Sans, sans-serif" >27600</text>
<line x1="306.3" y1="466.8" x2="306.3" y2="471.2" stroke="#333" stroke-width="0.9" />
<text x="306.3" y="477.9" font-size="8.1" fill="#1a1a1a" text-anchor="middle" font-family="Liberation Sans, sans-serif" >27800</text>
<line x1="356" y1="466.8" x2="356" y2="471.2" stroke="#333" stroke-width="0.9" />
<text x="356" y="477.9" font-size="8.1" fill="#1a1a1a" text-anchor="middle" font-family="Liberation Sans, sans-serif" >28000</text>
<line x1="405.7" y1="466.8" x2="405.7" y2="471.2" stroke="#333" stroke-width="0.9" />
<text x="405.7" y="477.9" font-size="8.1" fill="#1a1a1a" text-anchor="middle" font-family="Liberation Sans, sans-serif" >28200</text>
<line x1="455.4" y1="466.8" x2="455.4" y2="471.2" stroke="#333" stroke-width="0.9" />
<text x="455.4" y="477.9" font-size="8.1" fill="#1a1a1a" text-anchor="middle" font-family="Liberation Sans, sans-serif" >28400</text>
<line x1="45.4" y1="466.8" x2="45.4" y2="471.2" stroke="#333" stroke-width="0.9" />
<line x1="482.6" y1="466.8" x2="482.6" y2="471.2" stroke="#333" stroke-width="0.9" />
<polygon points="203.8,483.2 415.4,483.2 283.5,509.8" fill="#dbaaa7" />
<text x="242.4" y="500" font-size="13.5" fill="#1a1a1a" text-anchor="start" font-family="Liberation Sans, sans-serif" >871 base deletion</text>
<rect x="30.6" y="513.8" width="465.8" height="28.2" fill="none" stroke="#4d8e9e" stroke-width="1.5"/>
<text x="46.8" y="533.7" font-size="13.9" fill="#1a1a1a" text-anchor="start" font-family="Liberation Sans, sans-serif" >BA.3.2</text>
<defs><linearGradient id="gM" x1="0" x2="1" y1="0" y2="0"><stop offset="0" stop-color="#f0a050" stop-opacity="0"/><stop offset="0.75" stop-color="#ec9840" stop-opacity="1"/><stop offset="1" stop-color="#e8923a"/></linearGradient></defs>
<polygon points="92.5,523.4 221,523.4 227.5,528.7 221,534 92.5,534" fill="url(#gM)" />
<text x="156.5" y="532" font-size="9.1" fill="#1a1a1a" text-anchor="middle" font-family="Liberation Sans, sans-serif" >M</text>
<polygon points="230,523.2 277.1,523.2 283.6,528.4 277.1,533.6 230,533.6" fill="#c8dd8c" />
<text x="253" y="531.8" font-size="9.4" fill="#1a1a1a" text-anchor="middle" font-family="Liberation Sans, sans-serif" >ORF6</text>
<polygon points="290.8,523.8 354.5,523.8 361,528.7 354.5,533.6 290.8,533.6" fill="#8ec4b2" />
<polygon points="295,516.6 356.2,516.6 362.7,520.8 356.2,525 295,525" fill="#ddb65e" />
<text x="324" y="524.2" font-size="9.4" fill="#1a1a1a" text-anchor="middle" font-family="Liberation Sans, sans-serif" >ORF9b</text>
<text x="322.5" y="532.4" font-size="9.4" fill="#1a1a1a" text-anchor="middle" font-family="Liberation Sans, sans-serif" >N</text>
<text x="0.6" y="562.5" font-size="14.4" fill="#111" text-anchor="start" font-family="Liberation Sans, sans-serif" >D</text>
<defs>
<linearGradient id="g6" x1="0" x2="1"><stop offset="0" stop-color="#d9dd9a" stop-opacity="0"/><stop offset="0.35" stop-color="#dfe2a8" stop-opacity="0.6"/><stop offset="1" stop-color="#a6bc56"/></linearGradient>
<linearGradient id="g7a" x1="0" x2="1"><stop offset="0" stop-color="#df4430"/><stop offset="0.45" stop-color="#ee8478"/><stop offset="0.8" stop-color="#f9d4d0"/><stop offset="1" stop-color="#ffffff" stop-opacity="0"/></linearGradient>
<linearGradient id="g8" x1="0" x2="1"><stop offset="0" stop-color="#d0ead0" stop-opacity="0"/><stop offset="0.5" stop-color="#b4dcb8"/><stop offset="1" stop-color="#6ab47e"/></linearGradient>
<linearGradient id="gN" x1="0" x2="1"><stop offset="0" stop-color="#5e9e8c"/><stop offset="0.6" stop-color="#a8d0c4"/><stop offset="1" stop-color="#ffffff" stop-opacity="0"/></linearGradient>
<linearGradient id="g9b" x1="0" x2="1"><stop offset="0" stop-color="#d89a30"/><stop offset="0.6" stop-color="#ecc88a"/><stop offset="1" stop-color="#ffffff" stop-opacity="0"/></linearGradient>
<linearGradient id="gR1" x1="0" x2="1"><stop offset="0" stop-color="#3a3434"/><stop offset="1" stop-color="#ffffff"/></linearGradient>
<linearGradient id="gR3" x1="0" x2="1"><stop offset="0" stop-color="#fcf0f0"/><stop offset="1" stop-color="#948888"/></linearGradient>
</defs>
<polygon points="40,577 258,577 267.5,583.2 258,589.4 40,589.4" fill="url(#g6)" />
<text x="216.5" y="587.5" font-size="8.6" fill="#1a1a1a" text-anchor="start" font-family="Liberation Sans, sans-serif" >ORF6</text>
<rect x="303.8" y="577.3" width="158" height="10.8" fill="url(#g7a)" />
<text x="340" y="586.5" font-size="8.8" fill="#2a1414" text-anchor="start" font-family="Liberation Sans, sans-serif" >ORF7a</text>
<text x="114.5" y="576.3" font-size="9.5" fill="#1a1a1a" text-anchor="start" font-family="Liberation Sans, sans-serif" >Wuhan-Hu1 position 27380</text>
<line x1="205" y1="578.6" x2="215.8" y2="595.4" stroke="#111" stroke-width="0.8" />
<text x="6.2" y="593.6" font-size="10.3" fill="#1a1a1a" text-anchor="start" font-family="Liberation Sans, sans-serif" >Wuhan-Hu-1</text>
<rect x="10.6" y="594.9" width="5.83" height="7.3" fill="#5cc35a" />
<text x="13.49" y="600.05" font-size="4.2" fill="#2d7a2a" text-anchor="middle" font-family="Liberation Sans, sans-serif" >A</text>
<rect x="16.38" y="594.9" width="5.83" height="7.3" fill="#f27c78" />
<text x="19.27" y="600.05" font-size="4.2" fill="#b83a36" text-anchor="middle" font-family="Liberation Sans, sans-serif" >T</text>
<rect x="22.16" y="594.9" width="5.83" height="7.3" fill="#5cc35a" />
<text x="25.05" y="600.05" font-size="4.2" fill="#2d7a2a" text-anchor="middle" font-family="Liberation Sans, sans-serif" >A</text>
<rect x="27.94" y="594.9" width="5.83" height="7.3" fill="#f27c78" />
<text x="30.83" y="600.05" font-size="4.2" fill="#b83a36" text-anchor="middle" font-family="Liberation Sans, sans-serif" >T</text>
<rect x="33.72" y="594.9" width="5.83" height="7.3" fill="#f27c78" />
<text x="36.61" y="600.05" font-size="4.2" fill="#b83a36" text-anchor="middle" font-family="Liberation Sans, sans-serif" >T</text>
<rect x="39.5" y="594.9" width="5.83" height="7.3" fill="#6a4fc4" />
<text x="42.39" y="600.05" font-size="4.2" fill="#3a2a80" text-anchor="middle" font-family="Liberation Sans, sans-serif" >C</text>
<rect x="45.28" y="594.9" width="5.83" height="7.3" fill="#f27c78" />
<text x="48.17" y="600.05" font-size="4.2" fill="#b83a36" text-anchor="middle" font-family="Liberation Sans, sans-serif" >T</text>
<rect x="51.06" y="594.9" width="5.83" height="7.3" fill="#6a4fc4" />
<text x="53.95" y="600.05" font-size="4.2" fill="#3a2a80" text-anchor="middle" font-family="Liberation Sans, sans-serif" >C</text>
<rect x="56.84" y="594.9" width="5.83" height="7.3" fill="#5cc35a" />
<text x="59.73" y="600.05" font-size="4.2" fill="#2d7a2a" text-anchor="middle" font-family="Liberation Sans, sans-serif" >A</text>
<rect x="62.62" y="594.9" width="5.83" height="7.3" fill="#5cc35a" />
<text x="65.51" y="600.05" font-size="4.2" fill="#2d7a2a" text-anchor="middle" font-family="Liberation Sans, sans-serif" >A</text>
<rect x="68.4" y="594.9" width="5.83" height="7.3" fill="#f27c78" />
<text x="71.29" y="600.05" font-size="4.2" fill="#b83a36" text-anchor="middle" font-family="Liberation Sans, sans-serif" >T</text>
<rect x="74.18" y="594.9" width="5.83" height="7.3" fill="#f27c78" />
<text x="77.07" y="600.05" font-size="4.2" fill="#b83a36" text-anchor="middle" font-family="Liberation Sans, sans-serif" >T</text>
<rect x="79.96" y="594.9" width="5.83" height="7.3" fill="#5cc35a" />
<text x="82.85" y="600.05" font-size="4.2" fill="#2d7a2a" text-anchor="middle" font-family="Liberation Sans, sans-serif" >A</text>
<rect x="85.74" y="594.9" width="5.83" height="7.3" fill="#403838" />
<text x="88.63" y="600.05" font-size="4.2" fill="#8a8a8a" text-anchor="middle" font-family="Liberation Sans, sans-serif" >G</text>
<rect x="91.52" y="594.9" width="5.83" height="7.3" fill="#5cc35a" />
<text x="94.41" y="600.05" font-size="4.2" fill="#2d7a2a" text-anchor="middle" font-family="Liberation Sans, sans-serif" >A</text>
<rect x="97.3" y="594.9" width="5.83" height="7.3" fill="#f27c78" />
<text x="100.19" y="600.05" font-size="4.2" fill="#b83a36" text-anchor="middle" font-family="Liberation Sans, sans-serif" >T</text>
<rect x="103.08" y="594.9" width="5.83" height="7.3" fill="#403838" />
<text x="105.97" y="600.05" font-size="4.2" fill="#8a8a8a" text-anchor="middle" font-family="Liberation Sans, sans-serif" >G</text>
<rect x="108.86" y="594.9" width="5.83" height="7.3" fill="#5cc35a" />
<text x="111.75" y="600.05" font-size="4.2" fill="#2d7a2a" text-anchor="middle" font-family="Liberation Sans, sans-serif" >A</text>
<rect x="114.64" y="594.9" width="5.83" height="7.3" fill="#5cc35a" />
<text x="117.53" y="600.05" font-size="4.2" fill="#2d7a2a" text-anchor="middle" font-family="Liberation Sans, sans-serif" >A</text>
<rect x="120.42" y="594.9" width="5.83" height="7.3" fill="#403838" />
<text x="123.31" y="600.05" font-size="4.2" fill="#8a8a8a" text-anchor="middle" font-family="Liberation Sans, sans-serif" >G</text>
<rect x="126.2" y="594.9" width="5.83" height="7.3" fill="#5cc35a" />
<text x="129.09" y="600.05" font-size="4.2" fill="#2d7a2a" text-anchor="middle" font-family="Liberation Sans, sans-serif" >A</text>
<rect x="131.98" y="594.9" width="5.83" height="7.3" fill="#403838" />
<text x="134.87" y="600.05" font-size="4.2" fill="#8a8a8a" text-anchor="middle" font-family="Liberation Sans, sans-serif" >G</text>
<rect x="137.76" y="594.9" width="5.83" height="7.3" fill="#6a4fc4" />
<text x="140.65" y="600.05" font-size="4.2" fill="#3a2a80" text-anchor="middle" font-family="Liberation Sans, sans-serif" >C</text>
<rect x="143.54" y="594.9" width="5.83" height="7.3" fill="#5cc35a" />
<text x="146.43" y="600.05" font-size="4.2" fill="#2d7a2a" text-anchor="middle" font-family="Liberation Sans, sans-serif" >A</text>
<rect x="149.32" y="594.9" width="5.83" height="7.3" fill="#5cc35a" />
<text x="152.21" y="600.05" font-size="4.2" fill="#2d7a2a" text-anchor="middle" font-family="Liberation Sans, sans-serif" >A</text>
<rect x="155.1" y="594.9" width="5.83" height="7.3" fill="#6a4fc4" />
<text x="157.99" y="600.05" font-size="4.2" fill="#3a2a80" text-anchor="middle" font-family="Liberation Sans, sans-serif" >C</text>
<rect x="160.88" y="594.9" width="5.83" height="7.3" fill="#6a4fc4" />
<text x="163.77" y="600.05" font-size="4.2" fill="#3a2a80" text-anchor="middle" font-family="Liberation Sans, sans-serif" >C</text>
<rect x="166.66" y="594.9" width="5.83" height="7.3" fill="#5cc35a" />
<text x="169.55" y="600.05" font-size="4.2" fill="#2d7a2a" text-anchor="middle" font-family="Liberation Sans, sans-serif" >A</text>
<rect x="172.44" y="594.9" width="5.83" height="7.3" fill="#5cc35a" />
<text x="175.33" y="600.05" font-size="4.2" fill="#2d7a2a" text-anchor="middle" font-family="Liberation Sans, sans-serif" >A</text>
<rect x="178.22" y="594.9" width="5.83" height="7.3" fill="#f27c78" />
<text x="181.11" y="600.05" font-size="4.2" fill="#b83a36" text-anchor="middle" font-family="Liberation Sans, sans-serif" >T</text>
<rect x="184" y="594.9" width="5.83" height="7.3" fill="#403838" />
<text x="186.89" y="600.05" font-size="4.2" fill="#8a8a8a" text-anchor="middle" font-family="Liberation Sans, sans-serif" >G</text>
<rect x="189.78" y="594.9" width="5.83" height="7.3" fill="#403838" />
<text x="192.67" y="600.05" font-size="4.2" fill="#8a8a8a" text-anchor="middle" font-family="Liberation Sans, sans-serif" >G</text>
<rect x="195.56" y="594.9" width="5.83" height="7.3" fill="#5cc35a" />
<text x="198.45" y="600.05" font-size="4.2" fill="#2d7a2a" text-anchor="middle" font-family="Liberation Sans, sans-serif" >A</text>
<rect x="201.34" y="594.9" width="5.83" height="7.3" fill="#403838" />
<text x="204.23" y="600.05" font-size="4.2" fill="#8a8a8a" text-anchor="middle" font-family="Liberation Sans, sans-serif" >G</text>
<rect x="207.12" y="594.9" width="5.83" height="7.3" fill="#5cc35a" />
<text x="210.01" y="600.05" font-size="4.2" fill="#2d7a2a" text-anchor="middle" font-family="Liberation Sans, sans-serif" >A</text>
<rect x="212.9" y="594.9" width="5.83" height="7.3" fill="#f7b4b0" />
<text x="215.79" y="600.05" font-size="4.2" fill="#b83a36" text-anchor="middle" font-family="Liberation Sans, sans-serif" >T</text>
<rect x="218.68" y="594.9" width="5.83" height="7.3" fill="#f7b4b0" />
<text x="221.57" y="600.05" font-size="4.2" fill="#b83a36" text-anchor="middle" font-family="Liberation Sans, sans-serif" >T</text>
<rect x="230.24" y="594.9" width="5.83" height="7.3" fill="#403838" />
<text x="233.13" y="600.05" font-size="4.2" fill="#8a8a8a" text-anchor="middle" font-family="Liberation Sans, sans-serif" >G</text>
<rect x="236.02" y="594.9" width="5.83" height="7.3" fill="#5cc35a" />
<text x="238.91" y="600.05" font-size="4.2" fill="#2d7a2a" text-anchor="middle" font-family="Liberation Sans, sans-serif" >A</text>
<rect x="241.8" y="594.9" width="5.83" height="7.3" fill="#f27c78" />
<text x="244.69" y="600.05" font-size="4.2" fill="#b83a36" text-anchor="middle" font-family="Liberation Sans, sans-serif" >T</text>
<rect x="247.58" y="594.9" width="5.83" height="7.3" fill="#f27c78" />
<text x="250.47" y="600.05" font-size="4.2" fill="#b83a36" text-anchor="middle" font-family="Liberation Sans, sans-serif" >T</text>
<rect x="253.36" y="594.9" width="5.83" height="7.3" fill="#5cc35a" />
<text x="256.25" y="600.05" font-size="4.2" fill="#2d7a2a" text-anchor="middle" font-family="Liberation Sans, sans-serif" >A</text>
<rect x="259.14" y="594.9" width="5.83" height="7.3" fill="#5cc35a" />
<text x="262.03" y="600.05" font-size="4.2" fill="#2d7a2a" text-anchor="middle" font-family="Liberation Sans, sans-serif" >A</text>
<rect x="264.92" y="594.9" width="5.83" height="7.3" fill="#5cc35a" />
<text x="267.81" y="600.05" font-size="4.2" fill="#2d7a2a" text-anchor="middle" font-family="Liberation Sans, sans-serif" >A</text>
<rect x="270.7" y="594.9" width="5.83" height="7.3" fill="#6a4fc4" />
<text x="273.59" y="600.05" font-size="4.2" fill="#3a2a80" text-anchor="middle" font-family="Liberation Sans, sans-serif" >C</text>
<rect x="276.48" y="594.9" width="5.83" height="7.3" fill="#403838" />
<text x="279.37" y="600.05" font-size="4.2" fill="#8a8a8a" text-anchor="middle" font-family="Liberation Sans, sans-serif" >G</text>
<rect x="282.26" y="594.9" width="5.83" height="7.3" fill="#5cc35a" />
<text x="285.15" y="600.05" font-size="4.2" fill="#2d7a2a" text-anchor="middle" font-family="Liberation Sans, sans-serif" >A</text>
<rect x="288.04" y="594.9" width="5.83" height="7.3" fill="#5cc35a" />
<text x="290.93" y="600.05" font-size="4.2" fill="#2d7a2a" text-anchor="middle" font-family="Liberation Sans, sans-serif" >A</text>
<rect x="293.82" y="594.9" width="5.83" height="7.3" fill="#6a4fc4" />
<text x="296.71" y="600.05" font-size="4.2" fill="#3a2a80" text-anchor="middle" font-family="Liberation Sans, sans-serif" >C</text>
<rect x="299.6" y="594.9" width="5.83" height="7.3" fill="#5cc35a" />
<text x="302.49" y="600.05" font-size="4.2" fill="#2d7a2a" text-anchor="middle" font-family="Liberation Sans, sans-serif" >A</text>
<rect x="305.38" y="594.9" width="5.83" height="7.3" fill="#f27c78" />
<text x="308.27" y="600.05" font-size="4.2" fill="#b83a36" text-anchor="middle" font-family="Liberation Sans, sans-serif" >T</text>
<rect x="311.16" y="594.9" width="5.83" height="7.3" fill="#403838" />
<text x="314.05" y="600.05" font-size="4.2" fill="#8a8a8a" text-anchor="middle" font-family="Liberation Sans, sans-serif" >G</text>
<rect x="316.94" y="594.9" width="5.83" height="7.3" fill="#5cc35a" />
<text x="319.83" y="600.05" font-size="4.2" fill="#2d7a2a" text-anchor="middle" font-family="Liberation Sans, sans-serif" >A</text>
<rect x="322.72" y="594.9" width="5.83" height="7.3" fill="#5cc35a" />
<text x="325.61" y="600.05" font-size="4.2" fill="#2d7a2a" text-anchor="middle" font-family="Liberation Sans, sans-serif" >A</text>
<rect x="328.5" y="594.9" width="5.83" height="7.3" fill="#5cc35a" />
<text x="331.39" y="600.05" font-size="4.2" fill="#2d7a2a" text-anchor="middle" font-family="Liberation Sans, sans-serif" >A</text>
<rect x="334.28" y="594.9" width="5.83" height="7.3" fill="#5cc35a" />
<text x="337.17" y="600.05" font-size="4.2" fill="#2d7a2a" text-anchor="middle" font-family="Liberation Sans, sans-serif" >A</text>
<rect x="340.06" y="594.9" width="5.83" height="7.3" fill="#f27c78" />
<text x="342.95" y="600.05" font-size="4.2" fill="#b83a36" text-anchor="middle" font-family="Liberation Sans, sans-serif" >T</text>
<rect x="345.84" y="594.9" width="5.83" height="7.3" fill="#f27c78" />
<text x="348.73" y="600.05" font-size="4.2" fill="#b83a36" text-anchor="middle" font-family="Liberation Sans, sans-serif" >T</text>
<rect x="351.62" y="594.9" width="5.83" height="7.3" fill="#5cc35a" />
<text x="354.51" y="600.05" font-size="4.2" fill="#2d7a2a" text-anchor="middle" font-family="Liberation Sans, sans-serif" >A</text>
<rect x="357.4" y="594.9" width="5.83" height="7.3" fill="#f27c78" />
<text x="360.29" y="600.05" font-size="4.2" fill="#b83a36" text-anchor="middle" font-family="Liberation Sans, sans-serif" >T</text>
<rect x="363.18" y="594.9" width="5.83" height="7.3" fill="#f27c78" />
<text x="366.07" y="600.05" font-size="4.2" fill="#b83a36" text-anchor="middle" font-family="Liberation Sans, sans-serif" >T</text>
<rect x="368.96" y="594.9" width="5.83" height="7.3" fill="#6a4fc4" />
<text x="371.85" y="600.05" font-size="4.2" fill="#3a2a80" text-anchor="middle" font-family="Liberation Sans, sans-serif" >C</text>
<rect x="374.74" y="594.9" width="5.83" height="7.3" fill="#f27c78" />
<text x="377.63" y="600.05" font-size="4.2" fill="#b83a36" text-anchor="middle" font-family="Liberation Sans, sans-serif" >T</text>
<rect x="380.52" y="594.9" width="5.83" height="7.3" fill="#f27c78" />
<text x="383.41" y="600.05" font-size="4.2" fill="#b83a36" text-anchor="middle" font-family="Liberation Sans, sans-serif" >T</text>
<rect x="386.3" y="594.9" width="5.83" height="7.3" fill="#f27c78" />
<text x="389.19" y="600.05" font-size="4.2" fill="#b83a36" text-anchor="middle" font-family="Liberation Sans, sans-serif" >T</text>
<rect x="392.08" y="594.9" width="5.83" height="7.3" fill="#f27c78" />
<text x="394.97" y="600.05" font-size="4.2" fill="#b83a36" text-anchor="middle" font-family="Liberation Sans, sans-serif" >T</text>
<rect x="397.86" y="594.9" width="5.83" height="7.3" fill="#6a4fc4" />
<text x="400.75" y="600.05" font-size="4.2" fill="#3a2a80" text-anchor="middle" font-family="Liberation Sans, sans-serif" >C</text>
<rect x="403.64" y="594.9" width="5.83" height="7.3" fill="#f27c78" />
<text x="406.53" y="600.05" font-size="4.2" fill="#b83a36" text-anchor="middle" font-family="Liberation Sans, sans-serif" >T</text>
<rect x="409.42" y="594.9" width="5.83" height="7.3" fill="#f27c78" />
<text x="412.31" y="600.05" font-size="4.2" fill="#b83a36" text-anchor="middle" font-family="Liberation Sans, sans-serif" >T</text>
<rect x="415.2" y="594.9" width="5.83" height="7.3" fill="#403838" />
<text x="418.09" y="600.05" font-size="4.2" fill="#8a8a8a" text-anchor="middle" font-family="Liberation Sans, sans-serif" >G</text>
<rect x="420.98" y="594.9" width="5.83" height="7.3" fill="#403838" />
<text x="423.87" y="600.05" font-size="4.2" fill="#8a8a8a" text-anchor="middle" font-family="Liberation Sans, sans-serif" >G</text>
<text x="227.35" y="599.9" font-size="6" fill="#555" text-anchor="middle" font-family="Liberation Sans, sans-serif" >-</text>
<rect x="426.76" y="594.9" width="47.04" height="7.3" fill="url(#gR1)" stroke="#9a9494" stroke-width="0.6"/>
<rect x="184" y="594.7" width="11.56" height="7.7" fill="none" stroke="#222" stroke-width="0.7"/>
<rect x="5.4" y="608.7" width="504" height="12.6" fill="#ffffff" stroke="#4d8e9e" stroke-width="1.3"/>
<rect x="10.6" y="611.6" width="5.83" height="7.3" fill="#5cc35a" />
<text x="13.49" y="616.75" font-size="4.2" fill="#2d7a2a" text-anchor="middle" font-family="Liberation Sans, sans-serif" >A</text>
<rect x="16.38" y="611.6" width="5.83" height="7.3" fill="#f27c78" />
<text x="19.27" y="616.75" font-size="4.2" fill="#b83a36" text-anchor="middle" font-family="Liberation Sans, sans-serif" >T</text>
<rect x="22.16" y="611.6" width="5.83" height="7.3" fill="#5cc35a" />
<text x="25.05" y="616.75" font-size="4.2" fill="#2d7a2a" text-anchor="middle" font-family="Liberation Sans, sans-serif" >A</text>
<rect x="27.94" y="611.6" width="5.83" height="7.3" fill="#f27c78" />
<text x="30.83" y="616.75" font-size="4.2" fill="#b83a36" text-anchor="middle" font-family="Liberation Sans, sans-serif" >T</text>
<rect x="33.72" y="611.6" width="5.83" height="7.3" fill="#f27c78" />
<text x="36.61" y="616.75" font-size="4.2" fill="#b83a36" text-anchor="middle" font-family="Liberation Sans, sans-serif" >T</text>
<rect x="39.5" y="611.6" width="5.83" height="7.3" fill="#6a4fc4" />
<text x="42.39" y="616.75" font-size="4.2" fill="#3a2a80" text-anchor="middle" font-family="Liberation Sans, sans-serif" >C</text>
<rect x="45.28" y="611.6" width="5.83" height="7.3" fill="#f27c78" />
<text x="48.17" y="616.75" font-size="4.2" fill="#b83a36" text-anchor="middle" font-family="Liberation Sans, sans-serif" >T</text>
<rect x="51.06" y="611.6" width="5.83" height="7.3" fill="#6a4fc4" />
<text x="53.95" y="616.75" font-size="4.2" fill="#3a2a80" text-anchor="middle" font-family="Liberation Sans, sans-serif" >C</text>
<rect x="56.84" y="611.6" width="5.83" height="7.3" fill="#5cc35a" />
<text x="59.73" y="616.75" font-size="4.2" fill="#2d7a2a" text-anchor="middle" font-family="Liberation Sans, sans-serif" >A</text>
<rect x="62.62" y="611.6" width="5.83" height="7.3" fill="#5cc35a" />
<text x="65.51" y="616.75" font-size="4.2" fill="#2d7a2a" text-anchor="middle" font-family="Liberation Sans, sans-serif" >A</text>
<rect x="68.4" y="611.6" width="5.83" height="7.3" fill="#f27c78" />
<text x="71.29" y="616.75" font-size="4.2" fill="#b83a36" text-anchor="middle" font-family="Liberation Sans, sans-serif" >T</text>
<rect x="74.18" y="611.6" width="5.83" height="7.3" fill="#f27c78" />
<text x="77.07" y="616.75" font-size="4.2" fill="#b83a36" text-anchor="middle" font-family="Liberation Sans, sans-serif" >T</text>
<rect x="79.96" y="611.6" width="5.83" height="7.3" fill="#5cc35a" />
<text x="82.85" y="616.75" font-size="4.2" fill="#2d7a2a" text-anchor="middle" font-family="Liberation Sans, sans-serif" >A</text>
<rect x="85.74" y="611.6" width="5.83" height="7.3" fill="#403838" />
<text x="88.63" y="616.75" font-size="4.2" fill="#8a8a8a" text-anchor="middle" font-family="Liberation Sans, sans-serif" >G</text>
<rect x="91.52" y="611.6" width="5.83" height="7.3" fill="#5cc35a" />
<text x="94.41" y="616.75" font-size="4.2" fill="#2d7a2a" text-anchor="middle" font-family="Liberation Sans, sans-serif" >A</text>
<rect x="97.3" y="611.6" width="5.83" height="7.3" fill="#f27c78" />
<text x="100.19" y="616.75" font-size="4.2" fill="#b83a36" text-anchor="middle" font-family="Liberation Sans, sans-serif" >T</text>
<rect x="103.08" y="611.6" width="5.83" height="7.3" fill="#403838" />
<text x="105.97" y="616.75" font-size="4.2" fill="#8a8a8a" text-anchor="middle" font-family="Liberation Sans, sans-serif" >G</text>
<rect x="108.86" y="611.6" width="5.83" height="7.3" fill="#5cc35a" />
<text x="111.75" y="616.75" font-size="4.2" fill="#2d7a2a" text-anchor="middle" font-family="Liberation Sans, sans-serif" >A</text>
<rect x="114.64" y="611.6" width="5.83" height="7.3" fill="#5cc35a" />
<text x="117.53" y="616.75" font-size="4.2" fill="#2d7a2a" text-anchor="middle" font-family="Liberation Sans, sans-serif" >A</text>
<rect x="120.42" y="611.6" width="5.83" height="7.3" fill="#403838" />
<text x="123.31" y="616.75" font-size="4.2" fill="#8a8a8a" text-anchor="middle" font-family="Liberation Sans, sans-serif" >G</text>
<rect x="126.2" y="611.6" width="5.83" height="7.3" fill="#5cc35a" />
<text x="129.09" y="616.75" font-size="4.2" fill="#2d7a2a" text-anchor="middle" font-family="Liberation Sans, sans-serif" >A</text>
<rect x="131.98" y="611.6" width="5.83" height="7.3" fill="#403838" />
<text x="134.87" y="616.75" font-size="4.2" fill="#8a8a8a" text-anchor="middle" font-family="Liberation Sans, sans-serif" >G</text>
<rect x="137.76" y="611.6" width="5.83" height="7.3" fill="#6a4fc4" />
<text x="140.65" y="616.75" font-size="4.2" fill="#3a2a80" text-anchor="middle" font-family="Liberation Sans, sans-serif" >C</text>
<rect x="143.54" y="611.6" width="5.83" height="7.3" fill="#5cc35a" />
<text x="146.43" y="616.75" font-size="4.2" fill="#2d7a2a" text-anchor="middle" font-family="Liberation Sans, sans-serif" >A</text>
<rect x="149.32" y="611.6" width="5.83" height="7.3" fill="#5cc35a" />
<text x="152.21" y="616.75" font-size="4.2" fill="#2d7a2a" text-anchor="middle" font-family="Liberation Sans, sans-serif" >A</text>
<rect x="155.1" y="611.6" width="5.83" height="7.3" fill="#6a4fc4" />
<text x="157.99" y="616.75" font-size="4.2" fill="#3a2a80" text-anchor="middle" font-family="Liberation Sans, sans-serif" >C</text>
<rect x="160.88" y="611.6" width="5.83" height="7.3" fill="#6a4fc4" />
<text x="163.77" y="616.75" font-size="4.2" fill="#3a2a80" text-anchor="middle" font-family="Liberation Sans, sans-serif" >C</text>
<rect x="166.66" y="611.6" width="5.83" height="7.3" fill="#5cc35a" />
<text x="169.55" y="616.75" font-size="4.2" fill="#2d7a2a" text-anchor="middle" font-family="Liberation Sans, sans-serif" >A</text>
<rect x="172.44" y="611.6" width="5.83" height="7.3" fill="#5cc35a" />
<text x="175.33" y="616.75" font-size="4.2" fill="#2d7a2a" text-anchor="middle" font-family="Liberation Sans, sans-serif" >A</text>
<rect x="178.22" y="611.6" width="5.83" height="7.3" fill="#f27c78" />
<text x="181.11" y="616.75" font-size="4.2" fill="#b83a36" text-anchor="middle" font-family="Liberation Sans, sans-serif" >T</text>
<rect x="184" y="611.6" width="5.83" height="7.3" fill="#403838" />
<text x="186.89" y="616.75" font-size="4.2" fill="#8a8a8a" text-anchor="middle" font-family="Liberation Sans, sans-serif" >G</text>
<rect x="189.78" y="611.6" width="5.83" height="7.3" fill="#403838" />
<text x="192.67" y="616.75" font-size="4.2" fill="#8a8a8a" text-anchor="middle" font-family="Liberation Sans, sans-serif" >G</text>
<rect x="195.56" y="611.6" width="5.83" height="7.3" fill="#5cc35a" />
<text x="198.45" y="616.75" font-size="4.2" fill="#2d7a2a" text-anchor="middle" font-family="Liberation Sans, sans-serif" >A</text>
<rect x="201.34" y="611.6" width="5.83" height="7.3" fill="#403838" />
<text x="204.23" y="616.75" font-size="4.2" fill="#8a8a8a" text-anchor="middle" font-family="Liberation Sans, sans-serif" >G</text>
<rect x="207.12" y="611.6" width="5.83" height="7.3" fill="#5cc35a" />
<text x="210.01" y="616.75" font-size="4.2" fill="#2d7a2a" text-anchor="middle" font-family="Liberation Sans, sans-serif" >A</text>
<rect x="212.9" y="611.6" width="5.83" height="7.3" fill="#f27c78" />
<text x="215.79" y="616.75" font-size="4.2" fill="#b83a36" text-anchor="middle" font-family="Liberation Sans, sans-serif" >T</text>
<rect x="218.68" y="611.6" width="5.83" height="7.3" fill="#f27c78" />
<text x="221.57" y="616.75" font-size="4.2" fill="#b83a36" text-anchor="middle" font-family="Liberation Sans, sans-serif" >T</text>
<rect x="224.46" y="611.6" width="5.83" height="7.3" fill="#6a4fc4" />
<text x="227.35" y="616.75" font-size="4.2" fill="#3a2a80" text-anchor="middle" font-family="Liberation Sans, sans-serif" >C</text>
<rect x="230.24" y="611.6" width="5.83" height="7.3" fill="#5cc35a" />
<text x="233.13" y="616.75" font-size="4.2" fill="#2d7a2a" text-anchor="middle" font-family="Liberation Sans, sans-serif" >A</text>
<rect x="236.02" y="611.6" width="5.83" height="7.3" fill="#f27c78" />
<text x="238.91" y="616.75" font-size="4.2" fill="#b83a36" text-anchor="middle" font-family="Liberation Sans, sans-serif" >T</text>
<rect x="241.8" y="611.6" width="5.83" height="7.3" fill="#6a4fc4" />
<text x="244.69" y="616.75" font-size="4.2" fill="#3a2a80" text-anchor="middle" font-family="Liberation Sans, sans-serif" >C</text>
<rect x="247.58" y="611.6" width="5.83" height="7.3" fill="#f27c78" />
<text x="250.47" y="616.75" font-size="4.2" fill="#b83a36" text-anchor="middle" font-family="Liberation Sans, sans-serif" >T</text>
<rect x="253.36" y="611.6" width="5.83" height="7.3" fill="#5cc35a" />
<text x="256.25" y="616.75" font-size="4.2" fill="#2d7a2a" text-anchor="middle" font-family="Liberation Sans, sans-serif" >A</text>
<rect x="259.14" y="611.6" width="5.83" height="7.3" fill="#5cc35a" />
<text x="262.03" y="616.75" font-size="4.2" fill="#2d7a2a" text-anchor="middle" font-family="Liberation Sans, sans-serif" >A</text>
<rect x="264.92" y="611.6" width="5.83" height="7.3" fill="#5cc35a" />
<text x="267.81" y="616.75" font-size="4.2" fill="#2d7a2a" text-anchor="middle" font-family="Liberation Sans, sans-serif" >A</text>
<rect x="270.7" y="611.6" width="5.83" height="7.3" fill="#6a4fc4" />
<text x="273.59" y="616.75" font-size="4.2" fill="#3a2a80" text-anchor="middle" font-family="Liberation Sans, sans-serif" >C</text>
<rect x="276.48" y="611.6" width="5.83" height="7.3" fill="#403838" />
<text x="279.37" y="616.75" font-size="4.2" fill="#8a8a8a" text-anchor="middle" font-family="Liberation Sans, sans-serif" >G</text>
<rect x="282.26" y="611.6" width="5.83" height="7.3" fill="#5cc35a" />
<text x="285.15" y="616.75" font-size="4.2" fill="#2d7a2a" text-anchor="middle" font-family="Liberation Sans, sans-serif" >A</text>
<rect x="288.04" y="611.6" width="5.83" height="7.3" fill="#5cc35a" />
<text x="290.93" y="616.75" font-size="4.2" fill="#2d7a2a" text-anchor="middle" font-family="Liberation Sans, sans-serif" >A</text>
<rect x="293.82" y="611.6" width="5.83" height="7.3" fill="#6a4fc4" />
<text x="296.71" y="616.75" font-size="4.2" fill="#3a2a80" text-anchor="middle" font-family="Liberation Sans, sans-serif" >C</text>
<rect x="299.6" y="611.6" width="5.83" height="7.3" fill="#5cc35a" />
<text x="302.49" y="616.75" font-size="4.2" fill="#2d7a2a" text-anchor="middle" font-family="Liberation Sans, sans-serif" >A</text>
<rect x="305.38" y="611.6" width="5.83" height="7.3" fill="#5cc35a" />
<text x="308.27" y="616.75" font-size="4.2" fill="#2d7a2a" text-anchor="middle" font-family="Liberation Sans, sans-serif" >A</text>
<rect x="311.16" y="611.6" width="5.83" height="7.3" fill="#5cc35a" />
<text x="314.05" y="616.75" font-size="4.2" fill="#2d7a2a" text-anchor="middle" font-family="Liberation Sans, sans-serif" >A</text>
<rect x="316.94" y="611.6" width="5.83" height="7.3" fill="#5cc35a" />
<text x="319.83" y="616.75" font-size="4.2" fill="#2d7a2a" text-anchor="middle" font-family="Liberation Sans, sans-serif" >A</text>
<rect x="322.72" y="611.6" width="5.83" height="7.3" fill="#6a4fc4" />
<text x="325.61" y="616.75" font-size="4.2" fill="#3a2a80" text-anchor="middle" font-family="Liberation Sans, sans-serif" >C</text>
<rect x="328.5" y="611.6" width="5.83" height="7.3" fill="#f27c78" />
<text x="331.39" y="616.75" font-size="4.2" fill="#b83a36" text-anchor="middle" font-family="Liberation Sans, sans-serif" >T</text>
<rect x="334.28" y="611.6" width="5.83" height="7.3" fill="#f27c78" />
<text x="337.17" y="616.75" font-size="4.2" fill="#b83a36" text-anchor="middle" font-family="Liberation Sans, sans-serif" >T</text>
<rect x="340.06" y="611.6" width="5.83" height="7.3" fill="#5cc35a" />
<text x="342.95" y="616.75" font-size="4.2" fill="#2d7a2a" text-anchor="middle" font-family="Liberation Sans, sans-serif" >A</text>
<rect x="345.84" y="611.6" width="5.83" height="7.3" fill="#5cc35a" />
<text x="348.73" y="616.75" font-size="4.2" fill="#2d7a2a" text-anchor="middle" font-family="Liberation Sans, sans-serif" >A</text>
<rect x="351.62" y="611.6" width="5.83" height="7.3" fill="#5cc35a" />
<text x="354.51" y="616.75" font-size="4.2" fill="#2d7a2a" text-anchor="middle" font-family="Liberation Sans, sans-serif" >A</text>
<rect x="357.4" y="611.6" width="5.83" height="7.3" fill="#f27c78" />
<text x="360.29" y="616.75" font-size="4.2" fill="#b83a36" text-anchor="middle" font-family="Liberation Sans, sans-serif" >T</text>
<rect x="363.18" y="611.6" width="5.83" height="7.3" fill="#403838" />
<text x="366.07" y="616.75" font-size="4.2" fill="#8a8a8a" text-anchor="middle" font-family="Liberation Sans, sans-serif" >G</text>
<rect x="368.96" y="611.6" width="5.83" height="7.3" fill="#f27c78" />
<text x="371.85" y="616.75" font-size="4.2" fill="#b83a36" text-anchor="middle" font-family="Liberation Sans, sans-serif" >T</text>
<rect x="374.74" y="611.6" width="5.83" height="7.3" fill="#6a4fc4" />
<text x="377.63" y="616.75" font-size="4.2" fill="#3a2a80" text-anchor="middle" font-family="Liberation Sans, sans-serif" >C</text>
<rect x="380.52" y="611.6" width="5.83" height="7.3" fill="#f27c78" />
<text x="383.41" y="616.75" font-size="4.2" fill="#b83a36" text-anchor="middle" font-family="Liberation Sans, sans-serif" >T</text>
<rect x="386.3" y="611.6" width="5.83" height="7.3" fill="#403838" />
<text x="389.19" y="616.75" font-size="4.2" fill="#8a8a8a" text-anchor="middle" font-family="Liberation Sans, sans-serif" >G</text>
<rect x="392.08" y="611.6" width="5.83" height="7.3" fill="#5cc35a" />
<text x="394.97" y="616.75" font-size="4.2" fill="#2d7a2a" text-anchor="middle" font-family="Liberation Sans, sans-serif" >A</text>
<rect x="397.86" y="611.6" width="5.83" height="7.3" fill="#f27c78" />
<text x="400.75" y="616.75" font-size="4.2" fill="#b83a36" text-anchor="middle" font-family="Liberation Sans, sans-serif" >T</text>
<rect x="403.64" y="611.6" width="5.83" height="7.3" fill="#5cc35a" />
<text x="406.53" y="616.75" font-size="4.2" fill="#2d7a2a" text-anchor="middle" font-family="Liberation Sans, sans-serif" >A</text>
<rect x="409.42" y="611.6" width="5.83" height="7.3" fill="#5cc35a" />
<text x="412.31" y="616.75" font-size="4.2" fill="#2d7a2a" text-anchor="middle" font-family="Liberation Sans, sans-serif" >A</text>
<rect x="415.2" y="611.6" width="5.83" height="7.3" fill="#f27c78" />
<text x="418.09" y="616.75" font-size="4.2" fill="#b83a36" text-anchor="middle" font-family="Liberation Sans, sans-serif" >T</text>
<rect x="420.98" y="611.6" width="5.83" height="7.3" fill="#403838" />
<text x="423.87" y="616.75" font-size="4.2" fill="#8a8a8a" text-anchor="middle" font-family="Liberation Sans, sans-serif" >G</text>
<rect x="426.76" y="611.6" width="5.83" height="7.3" fill="#403838" />
<text x="429.65" y="616.75" font-size="4.2" fill="#8a8a8a" text-anchor="middle" font-family="Liberation Sans, sans-serif" >G</text>
<rect x="432.54" y="611.6" width="5.83" height="7.3" fill="#5cc35a" />
<text x="435.43" y="616.75" font-size="4.2" fill="#2d7a2a" text-anchor="middle" font-family="Liberation Sans, sans-serif" >A</text>
<rect x="438.32" y="611.6" width="5.83" height="7.3" fill="#6a4fc4" />
<text x="441.21" y="616.75" font-size="4.2" fill="#3a2a80" text-anchor="middle" font-family="Liberation Sans, sans-serif" >C</text>
<rect x="444.1" y="611.6" width="5.83" height="7.3" fill="#6a4fc4" />
<text x="446.99" y="616.75" font-size="4.2" fill="#3a2a80" text-anchor="middle" font-family="Liberation Sans, sans-serif" >C</text>
<rect x="449.88" y="611.6" width="5.83" height="7.3" fill="#6a4fc4" />
<text x="452.77" y="616.75" font-size="4.2" fill="#3a2a80" text-anchor="middle" font-family="Liberation Sans, sans-serif" >C</text>
<rect x="455.66" y="611.6" width="5.83" height="7.3" fill="#6a4fc4" />
<text x="458.55" y="616.75" font-size="4.2" fill="#3a2a80" text-anchor="middle" font-family="Liberation Sans, sans-serif" >C</text>
<rect x="461.44" y="611.6" width="5.83" height="7.3" fill="#5cc35a" />
<text x="464.33" y="616.75" font-size="4.2" fill="#2d7a2a" text-anchor="middle" font-family="Liberation Sans, sans-serif" >A</text>
<rect x="467.22" y="611.6" width="5.83" height="7.3" fill="#5cc35a" />
<text x="470.11" y="616.75" font-size="4.2" fill="#2d7a2a" text-anchor="middle" font-family="Liberation Sans, sans-serif" >A</text>
<rect x="114.64" y="627.8" width="5.83" height="7.3" fill="#f27c78" />
<text x="117.53" y="632.95" font-size="4.2" fill="#b83a36" text-anchor="middle" font-family="Liberation Sans, sans-serif" >T</text>
<rect x="120.42" y="627.8" width="5.83" height="7.3" fill="#f27c78" />
<text x="123.31" y="632.95" font-size="4.2" fill="#b83a36" text-anchor="middle" font-family="Liberation Sans, sans-serif" >T</text>
<rect x="126.2" y="627.8" width="5.83" height="7.3" fill="#6a4fc4" />
<text x="129.09" y="632.95" font-size="4.2" fill="#3a2a80" text-anchor="middle" font-family="Liberation Sans, sans-serif" >C</text>
<rect x="131.98" y="627.8" width="5.83" height="7.3" fill="#403838" />
<text x="134.87" y="632.95" font-size="4.2" fill="#8a8a8a" text-anchor="middle" font-family="Liberation Sans, sans-serif" >G</text>
<rect x="137.76" y="627.8" width="5.83" height="7.3" fill="#f27c78" />
<text x="140.65" y="632.95" font-size="4.2" fill="#b83a36" text-anchor="middle" font-family="Liberation Sans, sans-serif" >T</text>
<rect x="143.54" y="627.8" width="5.83" height="7.3" fill="#403838" />
<text x="146.43" y="632.95" font-size="4.2" fill="#8a8a8a" text-anchor="middle" font-family="Liberation Sans, sans-serif" >G</text>
<rect x="149.32" y="627.8" width="5.83" height="7.3" fill="#f27c78" />
<text x="152.21" y="632.95" font-size="4.2" fill="#b83a36" text-anchor="middle" font-family="Liberation Sans, sans-serif" >T</text>
<rect x="155.1" y="627.8" width="5.83" height="7.3" fill="#f27c78" />
<text x="157.99" y="632.95" font-size="4.2" fill="#b83a36" text-anchor="middle" font-family="Liberation Sans, sans-serif" >T</text>
<rect x="160.88" y="627.8" width="5.83" height="7.3" fill="#403838" />
<text x="163.77" y="632.95" font-size="4.2" fill="#8a8a8a" text-anchor="middle" font-family="Liberation Sans, sans-serif" >G</text>
<rect x="166.66" y="627.8" width="5.83" height="7.3" fill="#f27c78" />
<text x="169.55" y="632.95" font-size="4.2" fill="#b83a36" text-anchor="middle" font-family="Liberation Sans, sans-serif" >T</text>
<rect x="172.44" y="627.8" width="5.83" height="7.3" fill="#f27c78" />
<text x="175.33" y="632.95" font-size="4.2" fill="#b83a36" text-anchor="middle" font-family="Liberation Sans, sans-serif" >T</text>
<rect x="178.22" y="627.8" width="5.83" height="7.3" fill="#f27c78" />
<text x="181.11" y="632.95" font-size="4.2" fill="#b83a36" text-anchor="middle" font-family="Liberation Sans, sans-serif" >T</text>
<rect x="184" y="627.8" width="5.83" height="7.3" fill="#f27c78" />
<text x="186.89" y="632.95" font-size="4.2" fill="#b83a36" text-anchor="middle" font-family="Liberation Sans, sans-serif" >T</text>
<rect x="189.78" y="627.8" width="5.83" height="7.3" fill="#5cc35a" />
<text x="192.67" y="632.95" font-size="4.2" fill="#2d7a2a" text-anchor="middle" font-family="Liberation Sans, sans-serif" >A</text>
<rect x="195.56" y="627.8" width="5.83" height="7.3" fill="#403838" />
<text x="198.45" y="632.95" font-size="4.2" fill="#8a8a8a" text-anchor="middle" font-family="Liberation Sans, sans-serif" >G</text>
<rect x="201.34" y="627.8" width="5.83" height="7.3" fill="#5cc35a" />
<text x="204.23" y="632.95" font-size="4.2" fill="#2d7a2a" text-anchor="middle" font-family="Liberation Sans, sans-serif" >A</text>
<rect x="207.12" y="627.8" width="5.83" height="7.3" fill="#f27c78" />
<text x="210.01" y="632.95" font-size="4.2" fill="#b83a36" text-anchor="middle" font-family="Liberation Sans, sans-serif" >T</text>
<rect x="212.9" y="627.8" width="5.83" height="7.3" fill="#f27c78" />
<text x="215.79" y="632.95" font-size="4.2" fill="#b83a36" text-anchor="middle" font-family="Liberation Sans, sans-serif" >T</text>
<rect x="218.68" y="627.8" width="5.83" height="7.3" fill="#f27c78" />
<text x="221.57" y="632.95" font-size="4.2" fill="#b83a36" text-anchor="middle" font-family="Liberation Sans, sans-serif" >T</text>
<rect x="224.46" y="627.8" width="5.83" height="7.3" fill="#6a4fc4" />
<text x="227.35" y="632.95" font-size="4.2" fill="#3a2a80" text-anchor="middle" font-family="Liberation Sans, sans-serif" >C</text>
<rect x="230.24" y="627.8" width="5.83" height="7.3" fill="#5cc35a" />
<text x="233.13" y="632.95" font-size="4.2" fill="#2d7a2a" text-anchor="middle" font-family="Liberation Sans, sans-serif" >A</text>
<rect x="236.02" y="627.8" width="5.83" height="7.3" fill="#f27c78" />
<text x="238.91" y="632.95" font-size="4.2" fill="#b83a36" text-anchor="middle" font-family="Liberation Sans, sans-serif" >T</text>
<rect x="241.8" y="627.8" width="5.83" height="7.3" fill="#6a4fc4" />
<text x="244.69" y="632.95" font-size="4.2" fill="#3a2a80" text-anchor="middle" font-family="Liberation Sans, sans-serif" >C</text>
<rect x="247.58" y="627.8" width="5.83" height="7.3" fill="#f27c78" />
<text x="250.47" y="632.95" font-size="4.2" fill="#b83a36" text-anchor="middle" font-family="Liberation Sans, sans-serif" >T</text>
<rect x="253.36" y="627.8" width="5.83" height="7.3" fill="#5cc35a" />
<text x="256.25" y="632.95" font-size="4.2" fill="#2d7a2a" text-anchor="middle" font-family="Liberation Sans, sans-serif" >A</text>
<rect x="259.14" y="627.8" width="5.83" height="7.3" fill="#5cc35a" />
<text x="262.03" y="632.95" font-size="4.2" fill="#2d7a2a" text-anchor="middle" font-family="Liberation Sans, sans-serif" >A</text>
<rect x="264.92" y="627.8" width="5.83" height="7.3" fill="#5cc35a" />
<text x="267.81" y="632.95" font-size="4.2" fill="#2d7a2a" text-anchor="middle" font-family="Liberation Sans, sans-serif" >A</text>
<rect x="270.7" y="627.8" width="5.83" height="7.3" fill="#6a4fc4" />
<text x="273.59" y="632.95" font-size="4.2" fill="#3a2a80" text-anchor="middle" font-family="Liberation Sans, sans-serif" >C</text>
<rect x="276.48" y="627.8" width="5.83" height="7.3" fill="#403838" />
<text x="279.37" y="632.95" font-size="4.2" fill="#8a8a8a" text-anchor="middle" font-family="Liberation Sans, sans-serif" >G</text>
<rect x="282.26" y="627.8" width="5.83" height="7.3" fill="#5cc35a" />
<text x="285.15" y="632.95" font-size="4.2" fill="#2d7a2a" text-anchor="middle" font-family="Liberation Sans, sans-serif" >A</text>
<rect x="288.04" y="627.8" width="5.83" height="7.3" fill="#5cc35a" />
<text x="290.93" y="632.95" font-size="4.2" fill="#2d7a2a" text-anchor="middle" font-family="Liberation Sans, sans-serif" >A</text>
<rect x="293.82" y="627.8" width="5.83" height="7.3" fill="#6a4fc4" />
<text x="296.71" y="632.95" font-size="4.2" fill="#3a2a80" text-anchor="middle" font-family="Liberation Sans, sans-serif" >C</text>
<rect x="299.6" y="627.8" width="5.83" height="7.3" fill="#5cc35a" />
<text x="302.49" y="632.95" font-size="4.2" fill="#2d7a2a" text-anchor="middle" font-family="Liberation Sans, sans-serif" >A</text>
<rect x="305.38" y="627.8" width="5.83" height="7.3" fill="#5cc35a" />
<text x="308.27" y="632.95" font-size="4.2" fill="#2d7a2a" text-anchor="middle" font-family="Liberation Sans, sans-serif" >A</text>
<rect x="311.16" y="627.8" width="5.83" height="7.3" fill="#5cc35a" />
<text x="314.05" y="632.95" font-size="4.2" fill="#2d7a2a" text-anchor="middle" font-family="Liberation Sans, sans-serif" >A</text>
<rect x="316.94" y="627.8" width="5.83" height="7.3" fill="#5cc35a" />
<text x="319.83" y="632.95" font-size="4.2" fill="#2d7a2a" text-anchor="middle" font-family="Liberation Sans, sans-serif" >A</text>
<rect x="322.72" y="627.8" width="5.83" height="7.3" fill="#6a4fc4" />
<text x="325.61" y="632.95" font-size="4.2" fill="#3a2a80" text-anchor="middle" font-family="Liberation Sans, sans-serif" >C</text>
<rect x="328.5" y="627.8" width="5.83" height="7.3" fill="#6a4fc4" />
<text x="331.39" y="632.95" font-size="4.2" fill="#3a2a80" text-anchor="middle" font-family="Liberation Sans, sans-serif" >C</text>
<rect x="334.28" y="627.8" width="5.83" height="7.3" fill="#5cc35a" />
<text x="337.17" y="632.95" font-size="4.2" fill="#2d7a2a" text-anchor="middle" font-family="Liberation Sans, sans-serif" >A</text>
<rect x="340.06" y="627.8" width="5.83" height="7.3" fill="#5cc35a" />
<text x="342.95" y="632.95" font-size="4.2" fill="#2d7a2a" text-anchor="middle" font-family="Liberation Sans, sans-serif" >A</text>
<rect x="345.84" y="627.8" width="5.83" height="7.3" fill="#5cc35a" />
<text x="348.73" y="632.95" font-size="4.2" fill="#2d7a2a" text-anchor="middle" font-family="Liberation Sans, sans-serif" >A</text>
<rect x="351.62" y="627.8" width="5.83" height="7.3" fill="#5cc35a" />
<text x="354.51" y="632.95" font-size="4.2" fill="#2d7a2a" text-anchor="middle" font-family="Liberation Sans, sans-serif" >A</text>
<rect x="357.4" y="627.8" width="5.83" height="7.3" fill="#f27c78" />
<text x="360.29" y="632.95" font-size="4.2" fill="#b83a36" text-anchor="middle" font-family="Liberation Sans, sans-serif" >T</text>
<rect x="363.18" y="627.8" width="5.83" height="7.3" fill="#403838" />
<text x="366.07" y="632.95" font-size="4.2" fill="#8a8a8a" text-anchor="middle" font-family="Liberation Sans, sans-serif" >G</text>
<rect x="368.96" y="627.8" width="5.83" height="7.3" fill="#f27c78" />
<text x="371.85" y="632.95" font-size="4.2" fill="#b83a36" text-anchor="middle" font-family="Liberation Sans, sans-serif" >T</text>
<rect x="374.74" y="627.8" width="5.83" height="7.3" fill="#6a4fc4" />
<text x="377.63" y="632.95" font-size="4.2" fill="#3a2a80" text-anchor="middle" font-family="Liberation Sans, sans-serif" >C</text>
<rect x="380.52" y="627.8" width="5.83" height="7.3" fill="#f27c78" />
<text x="383.41" y="632.95" font-size="4.2" fill="#b83a36" text-anchor="middle" font-family="Liberation Sans, sans-serif" >T</text>
<rect x="386.3" y="627.8" width="5.83" height="7.3" fill="#403838" />
<text x="389.19" y="632.95" font-size="4.2" fill="#8a8a8a" text-anchor="middle" font-family="Liberation Sans, sans-serif" >G</text>
<rect x="392.08" y="627.8" width="5.83" height="7.3" fill="#5cc35a" />
<text x="394.97" y="632.95" font-size="4.2" fill="#2d7a2a" text-anchor="middle" font-family="Liberation Sans, sans-serif" >A</text>
<rect x="397.86" y="627.8" width="5.83" height="7.3" fill="#f27c78" />
<text x="400.75" y="632.95" font-size="4.2" fill="#b83a36" text-anchor="middle" font-family="Liberation Sans, sans-serif" >T</text>
<rect x="403.64" y="627.8" width="5.83" height="7.3" fill="#5cc35a" />
<text x="406.53" y="632.95" font-size="4.2" fill="#2d7a2a" text-anchor="middle" font-family="Liberation Sans, sans-serif" >A</text>
<rect x="409.42" y="627.8" width="5.83" height="7.3" fill="#5cc35a" />
<text x="412.31" y="632.95" font-size="4.2" fill="#2d7a2a" text-anchor="middle" font-family="Liberation Sans, sans-serif" >A</text>
<rect x="415.2" y="627.8" width="5.83" height="7.3" fill="#f27c78" />
<text x="418.09" y="632.95" font-size="4.2" fill="#b83a36" text-anchor="middle" font-family="Liberation Sans, sans-serif" >T</text>
<rect x="420.98" y="627.8" width="5.83" height="7.3" fill="#403838" />
<text x="423.87" y="632.95" font-size="4.2" fill="#8a8a8a" text-anchor="middle" font-family="Liberation Sans, sans-serif" >G</text>
<rect x="426.76" y="627.8" width="5.83" height="7.3" fill="#403838" />
<text x="429.65" y="632.95" font-size="4.2" fill="#8a8a8a" text-anchor="middle" font-family="Liberation Sans, sans-serif" >G</text>
<rect x="432.54" y="627.8" width="5.83" height="7.3" fill="#5cc35a" />
<text x="435.43" y="632.95" font-size="4.2" fill="#2d7a2a" text-anchor="middle" font-family="Liberation Sans, sans-serif" >A</text>
<rect x="438.32" y="627.8" width="5.83" height="7.3" fill="#6a4fc4" />
<text x="441.21" y="632.95" font-size="4.2" fill="#3a2a80" text-anchor="middle" font-family="Liberation Sans, sans-serif" >C</text>
<rect x="444.1" y="627.8" width="5.83" height="7.3" fill="#6a4fc4" />
<text x="446.99" y="632.95" font-size="4.2" fill="#3a2a80" text-anchor="middle" font-family="Liberation Sans, sans-serif" >C</text>
<rect x="449.88" y="627.8" width="5.83" height="7.3" fill="#6a4fc4" />
<text x="452.77" y="632.95" font-size="4.2" fill="#3a2a80" text-anchor="middle" font-family="Liberation Sans, sans-serif" >C</text>
<rect x="455.66" y="627.8" width="5.83" height="7.3" fill="#6a4fc4" />
<text x="458.55" y="632.95" font-size="4.2" fill="#3a2a80" text-anchor="middle" font-family="Liberation Sans, sans-serif" >C</text>
<rect x="461.44" y="627.8" width="5.83" height="7.3" fill="#5cc35a" />
<text x="464.33" y="632.95" font-size="4.2" fill="#2d7a2a" text-anchor="middle" font-family="Liberation Sans, sans-serif" >A</text>
<rect x="467.22" y="627.8" width="5.83" height="7.3" fill="#5cc35a" />
<text x="470.11" y="632.95" font-size="4.2" fill="#2d7a2a" text-anchor="middle" font-family="Liberation Sans, sans-serif" >A</text>
<rect x="73" y="627.8" width="41.64" height="7.3" fill="url(#gR3)" stroke="#9a9494" stroke-width="0.6"/>
<text x="476" y="619.3" font-size="10.6" fill="#111" text-anchor="start" font-family="Liberation Sans, sans-serif" >BA.3.2</text>
<text x="6.2" y="636.9" font-size="10.5" fill="#1a1a1a" text-anchor="start" font-family="Liberation Sans, sans-serif" >Wuhan-Hu-1</text>
<line x1="13.49" y1="604.6" x2="13.49" y2="608.4" stroke="#333" stroke-width="0.8" />
<line x1="19.27" y1="604.6" x2="19.27" y2="608.4" stroke="#333" stroke-width="0.8" />
<line x1="25.05" y1="604.6" x2="25.05" y2="608.4" stroke="#333" stroke-width="0.8" />
<line x1="30.83" y1="604.6" x2="30.83" y2="608.4" stroke="#333" stroke-width="0.8" />
<line x1="36.61" y1="604.6" x2="36.61" y2="608.4" stroke="#333" stroke-width="0.8" />
<line x1="42.39" y1="604.6" x2="42.39" y2="608.4" stroke="#333" stroke-width="0.8" />
<line x1="48.17" y1="604.6" x2="48.17" y2="608.4" stroke="#333" stroke-width="0.8" />
<line x1="53.95" y1="604.6" x2="53.95" y2="608.4" stroke="#333" stroke-width="0.8" />
<line x1="59.73" y1="604.6" x2="59.73" y2="608.4" stroke="#333" stroke-width="0.8" />
<line x1="65.51" y1="604.6" x2="65.51" y2="608.4" stroke="#333" stroke-width="0.8" />
<line x1="71.29" y1="604.6" x2="71.29" y2="608.4" stroke="#333" stroke-width="0.8" />
<line x1="77.07" y1="604.6" x2="77.07" y2="608.4" stroke="#333" stroke-width="0.8" />
<line x1="82.85" y1="604.6" x2="82.85" y2="608.4" stroke="#333" stroke-width="0.8" />
<line x1="88.63" y1="604.6" x2="88.63" y2="608.4" stroke="#333" stroke-width="0.8" />
<line x1="94.41" y1="604.6" x2="94.41" y2="608.4" stroke="#333" stroke-width="0.8" />
<line x1="100.19" y1="604.6" x2="100.19" y2="608.4" stroke="#333" stroke-width="0.8" />
<line x1="105.97" y1="604.6" x2="105.97" y2="608.4" stroke="#333" stroke-width="0.8" />
<line x1="111.75" y1="604.6" x2="111.75" y2="608.4" stroke="#333" stroke-width="0.8" />
<line x1="117.53" y1="604.6" x2="117.53" y2="608.4" stroke="#333" stroke-width="0.8" />
<line x1="123.31" y1="604.6" x2="123.31" y2="608.4" stroke="#333" stroke-width="0.8" />
<line x1="129.09" y1="604.6" x2="129.09" y2="608.4" stroke="#333" stroke-width="0.8" />
<line x1="134.87" y1="604.6" x2="134.87" y2="608.4" stroke="#333" stroke-width="0.8" />
<line x1="140.65" y1="604.6" x2="140.65" y2="608.4" stroke="#333" stroke-width="0.8" />
<line x1="146.43" y1="604.6" x2="146.43" y2="608.4" stroke="#333" stroke-width="0.8" />
<line x1="152.21" y1="604.6" x2="152.21" y2="608.4" stroke="#333" stroke-width="0.8" />
<line x1="157.99" y1="604.6" x2="157.99" y2="608.4" stroke="#333" stroke-width="0.8" />
<line x1="163.77" y1="604.6" x2="163.77" y2="608.4" stroke="#333" stroke-width="0.8" />
<line x1="169.55" y1="604.6" x2="169.55" y2="608.4" stroke="#333" stroke-width="0.8" />
<line x1="175.33" y1="604.6" x2="175.33" y2="608.4" stroke="#333" stroke-width="0.8" />
<line x1="181.11" y1="604.6" x2="181.11" y2="608.4" stroke="#333" stroke-width="0.8" />
<line x1="186.89" y1="604.6" x2="186.89" y2="608.4" stroke="#333" stroke-width="0.8" />
<line x1="192.67" y1="604.6" x2="192.67" y2="608.4" stroke="#333" stroke-width="0.8" />
<line x1="198.45" y1="604.6" x2="198.45" y2="608.4" stroke="#333" stroke-width="0.8" />
<line x1="204.23" y1="604.6" x2="204.23" y2="608.4" stroke="#333" stroke-width="0.8" />
<line x1="210.01" y1="604.6" x2="210.01" y2="608.4" stroke="#333" stroke-width="0.8" />
<line x1="215.79" y1="604.6" x2="215.79" y2="608.4" stroke="#333" stroke-width="0.8" />
<line x1="221.57" y1="604.6" x2="221.57" y2="608.4" stroke="#333" stroke-width="0.8" />
<line x1="227.35" y1="621.6" x2="227.35" y2="626" stroke="#333" stroke-width="0.8" />
<line x1="233.13" y1="621.6" x2="233.13" y2="626" stroke="#333" stroke-width="0.8" />
<line x1="238.91" y1="621.6" x2="238.91" y2="626" stroke="#333" stroke-width="0.8" />
<line x1="244.69" y1="621.6" x2="244.69" y2="626" stroke="#333" stroke-width="0.8" />
<line x1="250.47" y1="621.6" x2="250.47" y2="626" stroke="#333" stroke-width="0.8" />
<line x1="256.25" y1="621.6" x2="256.25" y2="626" stroke="#333" stroke-width="0.8" />
<line x1="262.03" y1="621.6" x2="262.03" y2="626" stroke="#333" stroke-width="0.8" />
<line x1="267.81" y1="621.6" x2="267.81" y2="626" stroke="#333" stroke-width="0.8" />
<line x1="273.59" y1="621.6" x2="273.59" y2="626" stroke="#333" stroke-width="0.8" />
<line x1="279.37" y1="621.6" x2="279.37" y2="626" stroke="#333" stroke-width="0.8" />
<line x1="285.15" y1="621.6" x2="285.15" y2="626" stroke="#333" stroke-width="0.8" />
<line x1="290.93" y1="621.6" x2="290.93" y2="626" stroke="#333" stroke-width="0.8" />
<line x1="296.71" y1="621.6" x2="296.71" y2="626" stroke="#333" stroke-width="0.8" />
<line x1="302.49" y1="621.6" x2="302.49" y2="626" stroke="#333" stroke-width="0.8" />
<line x1="308.27" y1="621.6" x2="308.27" y2="626" stroke="#333" stroke-width="0.8" />
<line x1="314.05" y1="621.6" x2="314.05" y2="626" stroke="#333" stroke-width="0.8" />
<line x1="319.83" y1="621.6" x2="319.83" y2="626" stroke="#333" stroke-width="0.8" />
<line x1="325.61" y1="621.6" x2="325.61" y2="626" stroke="#333" stroke-width="0.8" />
<line x1="331.39" y1="621.6" x2="331.39" y2="626" stroke="#333" stroke-width="0.8" />
<line x1="337.17" y1="621.6" x2="337.17" y2="626" stroke="#333" stroke-width="0.8" />
<line x1="342.95" y1="621.6" x2="342.95" y2="626" stroke="#333" stroke-width="0.8" />
<line x1="348.73" y1="621.6" x2="348.73" y2="626" stroke="#333" stroke-width="0.8" />
<line x1="354.51" y1="621.6" x2="354.51" y2="626" stroke="#333" stroke-width="0.8" />
<line x1="360.29" y1="621.6" x2="360.29" y2="626" stroke="#333" stroke-width="0.8" />
<line x1="366.07" y1="621.6" x2="366.07" y2="626" stroke="#333" stroke-width="0.8" />
<line x1="371.85" y1="621.6" x2="371.85" y2="626" stroke="#333" stroke-width="0.8" />
<line x1="377.63" y1="621.6" x2="377.63" y2="626" stroke="#333" stroke-width="0.8" />
<line x1="383.41" y1="621.6" x2="383.41" y2="626" stroke="#333" stroke-width="0.8" />
<line x1="389.19" y1="621.6" x2="389.19" y2="626" stroke="#333" stroke-width="0.8" />
<line x1="394.97" y1="621.6" x2="394.97" y2="626" stroke="#333" stroke-width="0.8" />
<line x1="400.75" y1="621.6" x2="400.75" y2="626" stroke="#333" stroke-width="0.8" />
<line x1="406.53" y1="621.6" x2="406.53" y2="626" stroke="#333" stroke-width="0.8" />
<line x1="412.31" y1="621.6" x2="412.31" y2="626" stroke="#333" stroke-width="0.8" />
<line x1="418.09" y1="621.6" x2="418.09" y2="626" stroke="#333" stroke-width="0.8" />
<line x1="423.87" y1="621.6" x2="423.87" y2="626" stroke="#333" stroke-width="0.8" />
<line x1="429.65" y1="621.6" x2="429.65" y2="626" stroke="#333" stroke-width="0.8" />
<line x1="435.43" y1="621.6" x2="435.43" y2="626" stroke="#333" stroke-width="0.8" />
<line x1="441.21" y1="621.6" x2="441.21" y2="626" stroke="#333" stroke-width="0.8" />
<line x1="446.99" y1="621.6" x2="446.99" y2="626" stroke="#333" stroke-width="0.8" />
<line x1="452.77" y1="621.6" x2="452.77" y2="626" stroke="#333" stroke-width="0.8" />
<line x1="458.55" y1="621.6" x2="458.55" y2="626" stroke="#333" stroke-width="0.8" />
<line x1="464.33" y1="621.6" x2="464.33" y2="626" stroke="#333" stroke-width="0.8" />
<line x1="470.11" y1="621.6" x2="470.11" y2="626" stroke="#333" stroke-width="0.8" />
<rect x="331.2" y="609.8" width="18.2" height="10.4" fill="none" stroke="#c03ca8" stroke-width="1.5"/>
<rect x="265.5" y="593.4" width="37.3" height="43" fill="none" stroke="#ea8a3a" stroke-width="2"/>
<path d="M191.5,603.8 L220.2,603.8 L220.2,626.2 L250.5,626.2" stroke="#e02424" stroke-width="2" fill="none" />
<polygon points="75,639 258,639 267.5,643.8 258,648.6 75,648.6" fill="url(#g8)" />
<text x="174.4" y="647.4" font-size="8.6" fill="#1a1a1a" text-anchor="start" font-family="Liberation Sans, sans-serif" >ORF8</text>
<line x1="221.6" y1="635.2" x2="211" y2="655.5" stroke="#111" stroke-width="0.8" />
<text x="117" y="669" font-size="9.5" fill="#1a1a1a" text-anchor="start" font-family="Liberation Sans, sans-serif" >Wuhan-Hu1 position 28252</text>
<rect x="348.6" y="637.2" width="171.4" height="10.4" fill="url(#gN)" />
<text x="380.4" y="645.8" font-size="8.8" fill="#1a1a1a" text-anchor="middle" font-family="Liberation Sans, sans-serif" >N</text>
<rect x="407.9" y="651.2" width="112.1" height="10.4" fill="url(#g9b)" />
<text x="418.4" y="659.7" font-size="8.8" fill="#1a1a1a" text-anchor="start" font-family="Liberation Sans, sans-serif" >ORF9b</text>
<text x="273.7" y="646.8" font-size="10" fill="#1a1a1a" text-anchor="start" font-family="Liberation Sans, sans-serif" >TRS</text>
<text x="275.6" y="666.4" font-size="10" fill="#1a1a1a" text-anchor="start" font-family="Liberation Sans, sans-serif" >new stop</text>
<line x1="313.3" y1="656" x2="336" y2="620.5" stroke="#111" stroke-width="0.8" />
</svg></body></html>
